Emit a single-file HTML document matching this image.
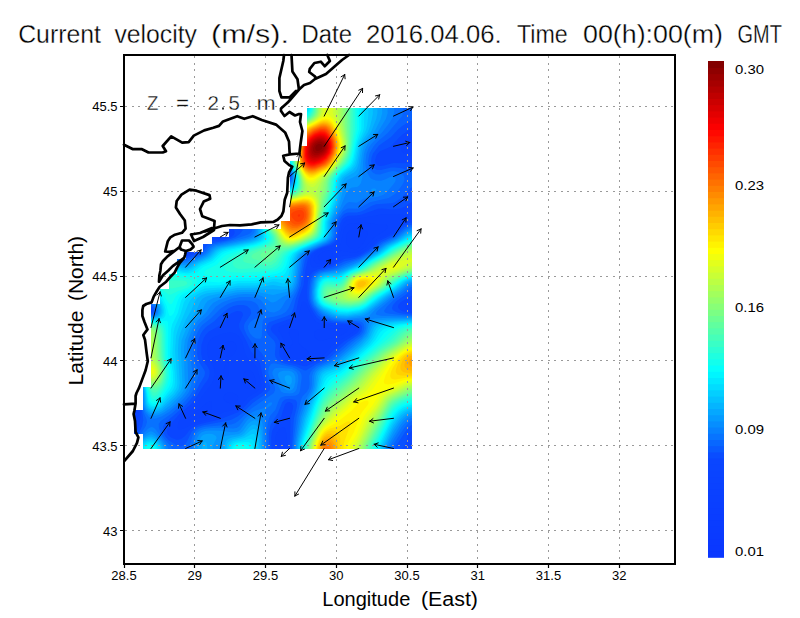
<!DOCTYPE html>
<html><head><meta charset="utf-8"><title>Current velocity</title>
<style>html,body{margin:0;padding:0;background:#fff;width:800px;height:618px;overflow:hidden}
svg text{font-family:"Liberation Sans",sans-serif}</style></head>
<body>
<svg width="800" height="618" viewBox="0 0 800 618" style="position:absolute;left:0;top:0"><defs><clipPath id="dm"><polygon points="412,108 412,449 143,449 143,434 134,434 134,410 143,410 143,387 151,387 151,304 160,304 160,289 169,289 169,274 177,274 177,259 186,259 186,252 203,252 203,244 212,244 212,237 229,237 229,229 281,229 281,221 290,221 290,161 300,161 300,146 307,146 307,108"/></clipPath></defs><g clip-path="url(#dm)"><polygon points="412,108 412,449 143,449 143,434 134,434 134,410 143,410 143,387 151,387 151,304 160,304 160,289 169,289 169,274 177,274 177,259 186,259 186,252 203,252 203,244 212,244 212,237 229,237 229,229 281,229 281,221 290,221 290,161 300,161 300,146 307,146 307,108" fill="#0a38ff"/><path fill="#0a39ff" fill-rule="evenodd" d="M132.0 105.0 414.0 105.0 414.0 451.0 132.0 451.0Z"/><path fill="#0a3aff" fill-rule="evenodd" d="M132.0 105.0 414.0 105.0 414.0 451.0 132.0 451.0 132.0 392.7 132.4 391.0 132.0 388.8Z"/><path fill="#0a3bff" fill-rule="evenodd" d="M132.0 105.0 414.0 105.0 414.0 451.0 132.0 451.0 132.0 396.2 133.3 394.0 134.0 391.0 133.3 388.0 132.0 386.3Z"/><path fill="#0a3cff" fill-rule="evenodd" d="M132.0 105.0 414.0 105.0 414.0 451.0 132.0 451.0 132.0 398.7 134.0 395.9 135.0 391.0 134.1 387.0 132.0 384.7Z"/><path fill="#0a3dff" fill-rule="evenodd" d="M132.0 105.0 414.0 105.0 414.0 451.0 132.0 451.0 132.0 401.1 135.0 396.4 135.9 391.0 135.0 386.7 132.0 383.5Z"/><path fill="#0a3fff" fill-rule="evenodd" d="M132.0 105.0 414.0 105.0 414.0 451.0 132.0 451.0 132.0 404.2 134.0 401.3 135.5 398.0 136.7 391.0 135.5 386.0 134.0 383.8 132.0 382.4Z"/><path fill="#0a40ff" fill-rule="evenodd" d="M132.0 105.0 414.0 105.0 414.0 451.0 132.0 451.0 132.0 407.0 133.8 405.0 136.9 396.0 137.4 392.0 137.0 388.0 136.0 385.4 134.0 382.7 132.0 381.3Z"/><path fill="#0a41ff" fill-rule="evenodd" d="M132.0 105.0 414.0 105.0 414.0 451.0 132.0 451.0 132.0 409.5 134.0 407.8 135.4 405.0 137.5 397.0 138.1 392.0 137.7 388.0 136.5 385.0 134.4 382.0 132.0 380.3Z"/><path fill="#0a42ff" fill-rule="evenodd" d="M132.0 105.0 414.0 105.0 414.0 451.0 132.0 451.0 132.0 412.1 134.0 410.7 136.0 407.3 138.2 397.0 138.7 392.0 138.3 388.0 137.0 384.5 135.0 381.5 132.0 379.4Z"/><path fill="#0a43ff" fill-rule="evenodd" d="M132.0 105.0 414.0 105.0 414.0 451.0 132.0 451.0 132.0 414.8 135.0 412.7 136.8 409.0 139.3 392.0 138.9 388.0 137.4 384.0 135.0 380.5 132.0 378.4ZM332.8 252.0 331.6 251.0 329.0 250.5 326.0 250.7 323.0 251.6 318.7 255.0 317.8 257.0 318.0 258.5 319.3 260.0 322.0 260.9 325.0 260.9 328.0 260.1 330.9 258.0 332.4 256.0 333.0 254.0ZM365.0 230.2 361.0 229.5 357.0 230.1 352.0 230.0 349.0 231.1 347.0 233.7 346.1 238.0 346.3 243.0 347.8 246.0 350.2 248.0 354.0 249.2 357.0 248.9 360.2 247.0 362.8 244.0 367.6 235.0 367.8 233.0 367.4 232.0Z"/><path fill="#0a44ff" fill-rule="evenodd" d="M132.0 105.0 414.0 105.0 414.0 451.0 132.0 451.0 132.0 418.3 135.0 416.4 137.4 412.0 138.4 407.0 139.9 392.0 139.2 387.0 137.5 383.0 135.0 379.5 132.0 377.4 132.0 251.6 169.0 251.5 182.0 252.1 185.0 251.5 187.8 250.0 188.9 249.0 189.7 247.0 189.2 245.0 186.9 242.0 184.0 239.9 181.0 239.1 169.0 240.1 132.0 239.7ZM167.6 181.0 167.4 182.0 170.7 184.0 180.0 186.3 186.0 186.7 202.0 185.8 205.0 186.1 207.8 188.0 209.1 190.0 209.5 196.0 212.0 201.3 214.0 203.4 216.0 204.4 217.0 204.1 218.5 202.0 219.4 197.0 219.2 190.0 220.7 183.0 220.0 181.2 219.0 180.5 215.0 179.6 204.0 179.5 183.0 177.8 172.4 179.0ZM231.0 341.1 228.0 341.4 225.0 342.7 222.9 345.0 222.2 347.0 222.6 350.0 224.0 352.7 228.0 357.5 229.0 357.9 234.0 353.9 235.7 351.0 236.4 348.0 236.1 345.0 235.0 343.0 233.0 341.6ZM247.0 370.3 245.0 371.3 243.5 374.0 242.6 379.0 243.0 384.0 244.0 386.3 246.0 388.0 248.0 388.5 251.0 388.2 253.7 387.0 255.2 385.0 255.8 382.0 255.4 379.0 254.0 374.7 252.3 372.0 250.0 370.5ZM281.4 176.0 282.0 177.1 284.0 177.7 285.5 177.0 285.9 176.0 285.2 175.0 284.0 174.7 282.3 175.0ZM292.0 329.1 290.1 330.0 289.3 331.0 288.9 333.0 290.0 336.1 292.7 341.0 292.8 343.0 288.1 350.0 287.6 353.0 288.0 355.0 290.0 357.0 293.0 358.0 299.0 358.4 303.0 357.5 306.9 355.0 308.4 353.0 308.5 352.0 298.3 343.0 298.0 341.0 298.7 334.0 298.0 330.8 296.0 329.2ZM387.7 226.0 386.0 224.5 378.0 224.6 365.0 222.4 351.0 223.4 348.0 224.3 346.0 225.9 344.0 229.0 340.9 243.0 339.0 247.0 337.0 247.8 326.0 249.0 320.4 251.0 317.3 253.0 314.6 256.0 313.7 259.0 314.1 261.0 316.0 262.9 318.0 263.5 326.0 263.3 329.9 262.0 333.0 260.0 335.8 257.0 339.0 252.3 341.0 250.7 353.0 252.7 356.0 252.5 359.0 251.5 365.5 247.0 374.0 237.5 385.6 230.0 387.4 228.0ZM211.5 402.0 210.0 401.3 207.0 402.5 199.6 409.0 190.3 416.0 188.6 418.0 188.6 419.0 191.0 419.6 204.0 416.9 208.0 415.0 210.0 413.0 211.4 410.0ZM216.0 225.4 214.0 227.9 213.3 230.0 213.3 232.0 214.0 234.0 216.0 235.7 218.0 236.3 221.0 236.2 224.1 235.0 225.1 234.0 225.7 232.0 224.0 228.3 221.0 225.5 219.0 224.6ZM228.0 362.3 227.0 362.6 225.0 365.5 223.8 370.0 224.0 376.2 225.0 378.3 226.0 378.7 228.0 376.3 229.0 372.5 229.0 365.9ZM347.2 330.0 344.9 329.0 338.0 328.0 320.8 329.0 317.0 329.9 315.2 331.0 314.1 333.0 314.1 335.0 315.0 337.6 317.0 339.7 319.0 340.4 322.0 340.4 335.0 337.6 339.9 336.0 346.4 332.0 347.3 331.0ZM223.9 396.0 223.5 398.0 224.2 400.0 226.3 402.0 230.0 403.4 233.0 403.5 235.0 402.9 237.0 401.2 238.0 399.0 238.1 397.0 237.1 395.0 233.0 393.1 230.0 392.7 227.0 393.0 225.0 394.3Z"/><path fill="#0a46ff" fill-rule="evenodd" d="M132.0 105.0 414.0 105.0 414.0 136.6 409.0 138.0 405.0 140.6 402.1 144.0 401.0 148.0 401.5 151.0 404.0 153.6 408.0 154.9 414.0 155.5 414.0 301.0 410.6 302.0 407.0 304.0 406.0 305.0 405.5 307.0 406.0 308.0 408.0 309.4 414.0 310.7 414.0 451.0 287.5 451.0 287.0 439.2 286.0 431.4 285.0 428.5 284.0 427.4 283.0 427.2 281.0 427.9 279.0 429.6 276.0 434.5 275.3 439.0 275.4 451.0 132.0 451.0 132.0 430.0 134.0 427.2 138.5 415.0 140.5 393.0 140.0 388.0 138.1 383.0 135.0 378.5 132.0 376.4 132.0 310.3 135.0 310.3 140.8 312.0 145.0 312.5 148.5 312.0 149.6 311.0 149.8 310.0 148.1 308.0 145.0 307.0 132.0 306.7 132.0 253.4 169.0 253.7 182.0 254.8 186.0 254.3 191.0 252.7 194.2 251.0 196.6 248.0 196.7 245.0 193.8 239.0 193.7 236.0 196.3 228.0 199.0 224.2 201.0 222.5 203.0 221.9 205.0 223.1 206.0 225.1 208.4 234.0 210.0 236.2 213.0 238.0 217.0 238.7 222.0 238.4 226.5 237.0 229.3 235.0 230.3 233.0 230.2 231.0 226.6 224.0 226.2 222.0 227.3 218.0 231.3 212.0 232.0 209.0 231.0 206.0 225.0 200.4 223.3 195.0 223.1 189.0 224.5 185.0 227.3 180.0 227.5 179.0 226.8 178.0 221.0 176.6 197.0 175.4 173.0 171.6 166.0 169.8 146.6 163.0 132.0 161.0ZM277.2 176.0 278.0 177.8 279.5 179.0 284.0 180.2 287.1 179.0 288.0 177.8 288.4 176.0 287.0 173.6 284.0 172.6 280.0 173.5 277.8 175.0ZM355.4 328.0 354.0 326.9 351.0 326.2 326.0 324.8 322.0 324.2 318.0 322.8 316.0 321.5 313.9 319.0 306.0 303.4 304.0 300.9 303.0 301.0 302.0 302.3 298.7 315.0 296.0 319.6 292.0 322.1 281.0 326.0 279.5 327.0 278.3 329.0 278.6 331.0 282.4 337.0 284.2 341.0 284.5 344.0 283.1 353.0 283.6 356.0 284.8 358.0 289.0 360.3 304.0 362.6 309.0 361.6 322.3 356.0 325.0 353.8 330.0 347.7 333.0 344.9 354.1 332.0 355.6 330.0ZM408.3 217.0 407.4 216.0 402.0 214.8 382.0 214.2 358.0 218.7 350.0 218.9 347.0 219.7 344.0 222.2 342.0 225.9 339.2 239.0 337.3 243.0 334.0 245.5 321.9 249.0 317.5 251.0 314.6 253.0 311.7 256.0 310.4 259.0 310.2 262.0 311.2 266.0 312.0 267.2 314.0 267.4 328.0 264.9 334.0 262.3 340.0 257.3 343.0 255.7 354.0 255.2 360.6 253.0 366.9 249.0 377.0 239.7 388.9 234.0 392.0 232.0 399.0 224.3 406.5 219.0ZM236.0 334.1 231.0 332.4 224.0 333.2 214.0 336.9 211.1 339.0 209.0 341.7 207.1 347.0 207.0 352.0 208.5 358.0 212.8 365.0 214.2 369.0 214.6 374.0 213.5 380.0 210.7 385.0 195.7 405.0 192.0 408.4 184.1 414.0 181.2 417.0 179.4 420.0 178.1 424.0 177.6 427.0 178.3 429.0 180.0 429.5 183.0 428.8 196.0 422.7 211.0 418.9 223.0 412.2 233.0 409.9 237.0 408.4 241.4 405.0 248.0 396.9 256.6 392.0 260.0 389.0 261.1 386.0 261.0 383.0 257.2 368.0 255.0 364.7 249.1 360.0 247.0 357.5 245.4 354.0 241.9 341.0 239.0 336.5Z"/><path fill="#0951ff" fill-rule="evenodd" d="M132.0 105.0 414.0 105.0 414.0 128.6 409.0 130.2 402.0 134.8 390.0 146.9 380.0 151.3 376.7 155.0 375.1 160.0 375.3 162.0 376.2 164.0 378.0 165.5 380.0 166.0 384.0 165.5 393.0 162.9 414.0 163.2 414.0 201.6 410.0 203.1 404.4 207.0 400.0 208.5 393.0 209.4 382.0 208.5 378.0 208.7 362.0 214.5 357.0 215.5 348.0 215.7 344.0 217.7 342.0 220.0 340.1 224.0 337.4 238.0 335.4 242.0 331.0 245.0 321.7 248.0 315.1 251.0 311.0 254.0 308.0 258.0 305.1 272.0 303.6 285.0 298.6 299.0 296.2 311.0 294.4 315.0 292.7 317.0 290.0 318.7 274.0 324.4 271.9 326.0 270.8 329.0 272.0 332.0 277.0 337.1 279.5 341.0 280.2 344.0 279.4 352.0 279.7 356.0 281.4 359.0 284.2 361.0 303.0 366.1 306.0 366.3 323.1 359.0 326.5 357.0 335.0 348.9 343.4 342.0 357.2 333.0 359.0 330.8 359.6 328.0 358.5 326.0 356.0 324.7 352.0 324.1 338.0 323.8 328.0 322.6 321.0 320.6 317.0 317.7 314.3 314.0 310.3 307.0 308.7 303.0 307.4 298.0 307.1 291.0 307.8 282.0 308.7 278.0 310.2 275.0 312.9 272.0 317.0 269.6 332.0 265.6 344.0 258.9 355.0 257.0 360.3 255.0 368.6 250.0 380.0 240.6 393.6 234.0 403.0 225.3 408.0 223.1 414.0 222.2 414.0 294.2 400.9 302.0 398.3 305.0 398.0 307.0 399.0 309.0 402.0 311.0 407.0 312.4 414.0 313.1 414.0 429.1 412.0 430.4 409.0 434.0 407.2 438.0 405.2 445.0 400.4 451.0 290.0 451.0 290.5 418.0 292.9 409.0 293.2 406.0 292.0 403.3 289.0 402.1 287.0 402.6 285.0 404.6 281.0 417.0 274.0 427.3 272.1 431.0 271.2 437.0 271.6 451.0 132.0 451.0 132.0 434.7 135.0 433.3 137.4 430.0 139.0 425.5 140.4 418.0 140.4 403.0 141.1 393.0 140.6 388.0 138.7 383.0 135.0 377.6 132.0 375.4 132.0 312.9 144.0 314.0 148.0 313.8 151.0 312.9 152.0 312.0 152.4 310.0 151.0 307.5 147.0 305.4 132.0 303.4 132.0 254.6 168.0 255.1 181.0 256.7 186.0 256.5 194.1 254.0 199.2 251.0 201.9 247.0 204.0 240.4 205.0 240.0 213.0 240.5 220.0 240.2 226.2 239.0 231.0 237.1 233.6 235.0 234.6 233.0 234.5 231.0 231.6 225.0 231.0 222.0 234.6 214.0 235.3 210.0 234.5 206.0 227.7 199.0 225.6 194.0 225.6 189.0 226.9 186.0 229.0 183.3 232.0 181.0 236.0 179.2 240.0 178.3 247.0 177.8 272.0 177.9 280.0 181.2 285.0 181.7 288.4 180.0 289.5 178.0 289.8 176.0 289.1 174.0 288.0 172.7 286.0 171.5 284.0 171.2 280.0 171.9 274.0 174.6 272.0 175.0 254.0 175.0 240.0 175.7 199.0 173.8 192.0 172.6 177.0 168.7 162.0 162.9 155.4 161.0 144.0 159.2 132.0 158.4ZM241.0 311.6 237.0 310.9 231.6 313.0 229.0 315.3 225.0 321.4 222.6 324.0 209.0 331.5 206.0 334.4 204.0 337.4 201.4 345.0 201.2 354.0 202.8 360.0 207.9 367.0 209.3 370.0 209.7 373.0 209.0 377.0 207.6 380.0 203.0 386.3 197.7 395.0 191.2 404.0 179.4 414.0 168.0 427.2 166.9 430.0 167.4 434.0 169.0 436.0 172.0 438.1 177.0 439.7 181.0 439.1 185.0 436.0 190.5 429.0 196.0 425.4 201.0 423.7 217.9 420.0 238.0 412.2 243.0 408.2 250.8 400.0 261.5 393.0 265.1 389.0 265.5 385.0 262.7 376.0 259.9 363.0 257.7 359.0 251.0 351.4 246.3 341.0 239.3 328.0 239.1 324.0 242.9 315.0 242.6 313.0Z"/><path fill="#0862ff" fill-rule="evenodd" d="M132.0 105.0 414.0 105.0 414.0 120.0 409.0 121.8 402.2 126.0 398.0 129.6 391.0 137.1 379.0 145.4 373.0 153.6 371.7 157.0 371.1 161.0 371.6 164.0 373.0 166.9 375.0 168.9 377.0 169.9 381.0 170.1 391.0 167.6 395.0 167.4 402.0 168.3 414.0 171.9 414.0 186.2 410.0 188.4 401.3 198.0 395.0 202.3 391.0 203.3 376.0 204.3 372.0 205.7 365.0 209.8 361.0 211.4 357.0 212.4 348.0 212.4 345.0 213.5 343.0 215.1 340.0 219.0 338.1 223.0 336.0 237.0 334.0 241.0 330.0 244.0 319.2 248.0 312.9 251.0 308.7 254.0 306.0 257.2 305.0 260.0 303.0 270.5 300.7 286.0 295.7 299.0 293.3 309.0 292.0 312.2 290.0 314.4 286.0 316.5 269.7 322.0 267.7 324.0 266.4 328.0 266.8 332.0 268.0 334.8 274.0 340.6 275.3 343.0 275.6 346.0 274.9 354.0 275.4 357.0 277.5 360.0 281.0 362.2 286.0 364.0 295.3 366.0 304.0 370.3 306.0 370.6 316.0 364.3 329.4 358.0 347.7 342.0 359.3 334.0 361.5 331.0 362.1 327.0 361.0 324.7 358.0 323.0 354.0 322.5 342.0 322.6 332.0 321.5 323.0 318.9 318.0 315.4 312.1 307.0 310.3 303.0 309.3 299.0 309.0 293.0 309.6 285.0 310.5 280.0 312.2 276.0 315.0 272.9 319.0 270.6 333.0 267.1 344.0 261.6 355.0 258.8 360.0 256.8 369.9 251.0 381.3 242.0 394.0 235.9 404.0 227.3 409.0 225.2 414.0 224.4 414.0 288.6 411.2 290.0 406.0 294.5 396.5 301.0 393.0 305.0 392.0 308.0 392.8 310.0 394.0 311.0 398.0 312.7 404.9 314.0 414.0 314.6 414.0 423.7 410.1 426.0 406.0 430.8 396.0 446.0 394.2 451.0 291.7 451.0 293.8 419.0 296.8 407.0 297.1 403.0 296.4 401.0 295.0 399.8 289.0 398.7 285.0 399.6 282.3 402.0 278.0 413.0 270.5 425.0 268.9 434.0 269.2 451.0 132.0 451.0 132.0 437.2 136.0 435.5 139.4 432.0 142.2 426.0 143.3 420.0 141.3 406.0 141.6 393.0 141.1 388.0 139.7 384.0 137.0 379.1 135.0 376.5 132.0 374.3 132.0 314.1 145.0 315.0 150.0 314.6 153.2 313.0 154.1 310.0 152.8 307.0 149.0 304.5 143.6 303.0 132.0 301.2 132.0 255.6 167.0 256.3 182.0 258.5 186.0 258.4 193.8 256.0 200.4 253.0 203.0 250.8 207.0 245.4 210.0 243.4 227.0 240.2 235.6 237.0 239.7 234.0 243.0 230.0 239.0 228.1 235.9 224.0 235.6 222.0 237.5 213.0 237.0 207.0 235.5 204.0 229.0 197.0 227.4 193.0 227.7 189.0 230.0 185.2 233.0 182.9 236.0 181.7 248.0 180.2 259.0 180.0 273.0 180.7 281.0 182.9 285.0 183.1 287.0 182.6 289.2 181.0 290.4 179.0 290.8 176.0 290.2 174.0 288.8 172.0 287.0 170.7 284.0 170.0 272.0 172.8 235.0 173.4 200.0 172.5 189.5 170.0 178.5 166.0 167.0 160.9 162.0 159.4 148.0 157.3 132.0 156.4ZM247.0 306.1 243.0 304.9 238.0 304.9 233.5 306.0 229.0 308.1 222.7 313.0 214.6 321.0 206.0 327.1 203.0 330.3 200.7 334.0 198.6 339.0 197.4 344.0 197.1 354.0 198.5 361.0 204.7 371.0 205.0 373.0 204.4 376.0 199.1 385.0 195.1 393.0 190.0 400.1 185.6 405.0 165.0 423.0 162.9 427.0 163.5 433.0 165.7 437.0 169.0 440.4 177.0 445.7 181.0 446.6 185.0 444.3 187.0 441.6 191.5 432.0 194.4 429.0 197.7 427.0 203.0 425.3 228.0 420.8 232.0 419.4 238.0 416.3 243.0 412.3 252.7 403.0 265.8 394.0 269.6 390.0 270.2 388.0 270.0 386.0 265.2 374.0 264.8 360.0 264.1 357.0 261.6 353.0 253.0 344.3 246.8 335.0 244.2 329.0 243.9 326.0 244.8 323.0 250.4 315.0 251.2 313.0 250.3 309.0Z"/><path fill="#0872ff" fill-rule="evenodd" d="M402.6 105.0 403.5 111.0 402.2 116.0 387.7 133.0 378.0 141.2 373.8 146.0 369.6 153.0 368.1 161.0 368.4 165.0 370.0 169.2 373.0 172.7 376.0 174.3 380.0 174.5 389.0 171.7 393.0 171.1 398.0 171.9 402.1 174.0 403.9 176.0 404.6 179.0 403.4 183.0 400.8 187.0 395.0 194.0 388.7 198.0 370.0 202.2 358.0 208.7 348.0 208.6 345.0 209.9 343.0 211.6 339.0 216.9 336.4 222.0 335.5 226.0 334.7 236.0 333.0 240.0 329.0 243.2 310.8 251.0 306.5 254.0 304.7 256.0 303.0 260.0 298.9 286.0 297.0 291.0 292.7 299.0 288.8 308.0 285.8 312.0 281.0 314.8 275.0 316.6 266.0 318.0 263.6 319.0 262.6 322.0 261.8 336.0 261.1 338.0 260.0 338.8 256.0 338.5 253.0 336.8 250.0 333.4 248.1 329.0 248.0 326.0 250.0 322.3 254.0 319.2 259.7 317.0 260.6 315.0 259.4 309.0 257.7 305.0 255.0 302.5 251.0 301.1 245.0 300.4 238.0 300.8 233.0 301.9 227.7 304.0 220.1 309.0 211.2 318.0 202.4 325.0 199.9 328.0 197.2 333.0 194.9 339.0 193.7 344.0 193.5 351.0 194.2 360.0 195.4 364.0 198.9 371.0 199.2 373.0 198.6 376.0 193.2 390.0 189.5 396.0 182.4 404.0 172.0 413.3 160.8 421.0 158.7 424.0 159.0 428.0 161.2 434.0 165.0 439.5 171.3 447.0 172.8 451.0 132.0 451.0 132.0 439.2 136.0 437.7 140.5 434.0 145.8 426.0 147.0 422.0 146.5 419.0 143.8 413.0 142.5 408.0 141.9 402.0 142.1 392.0 141.4 387.0 139.8 383.0 137.0 378.1 134.0 374.5 132.0 373.1 132.0 315.1 145.0 315.8 150.0 315.5 153.9 314.0 154.8 313.0 155.5 311.0 154.4 307.0 151.0 303.9 144.0 301.6 132.0 299.2 132.0 256.6 166.0 257.4 172.0 258.0 182.0 260.0 187.0 259.9 193.0 257.9 202.0 254.0 204.7 252.0 209.0 246.9 213.0 244.4 232.0 240.1 248.0 234.6 250.5 233.0 252.1 231.0 252.8 229.0 252.3 226.0 249.8 223.0 243.0 220.7 240.8 219.0 240.0 216.7 237.9 205.0 236.0 202.1 231.2 197.0 229.6 194.0 229.3 190.0 230.9 187.0 233.0 185.0 237.0 183.2 248.0 181.7 262.0 181.7 273.0 182.4 282.0 184.2 286.0 184.1 288.0 183.4 290.0 181.9 291.0 180.0 291.6 177.0 291.1 174.0 290.0 172.0 288.0 170.1 285.0 168.9 282.0 169.0 272.0 171.4 233.0 171.9 202.0 171.4 191.6 169.0 173.1 160.0 166.0 157.6 152.0 155.5 132.0 154.5 132.0 105.0ZM414.0 226.3 414.0 285.8 410.0 287.6 403.6 293.0 393.6 300.0 386.6 307.0 384.0 311.0 385.0 312.5 388.0 313.4 401.0 315.1 414.0 315.8 414.0 420.1 411.4 421.0 409.0 422.6 404.0 428.2 394.0 443.4 392.0 447.9 391.3 451.0 293.1 451.0 293.6 441.0 296.6 417.0 301.6 398.0 302.8 396.0 307.0 391.8 309.0 388.0 309.6 384.0 309.2 376.0 310.5 372.0 312.9 369.0 316.7 366.0 328.1 361.0 333.0 358.0 351.4 342.0 360.9 335.0 363.1 332.0 364.3 328.0 363.6 324.0 362.0 322.3 360.0 321.4 355.0 320.9 342.0 321.3 334.0 320.4 324.0 317.2 319.3 314.0 313.7 307.0 311.7 303.0 310.6 299.0 310.3 294.0 310.6 288.0 311.5 282.0 312.9 278.0 316.0 274.0 320.0 271.6 335.0 268.2 345.0 263.5 359.0 258.7 370.8 252.0 383.0 242.7 395.1 237.0 405.0 228.8 409.0 227.0ZM300.2 372.0 301.6 375.0 301.7 378.0 299.9 391.0 299.0 393.5 297.1 395.0 295.0 395.7 285.0 396.3 282.1 397.0 280.4 398.0 279.0 400.1 275.3 410.0 270.8 415.0 269.1 418.0 267.8 423.0 267.1 430.0 267.4 451.0 188.5 451.0 189.7 445.0 192.5 436.0 194.7 432.0 197.0 429.8 200.4 428.0 205.0 426.8 231.0 424.4 235.0 423.3 238.0 421.2 252.0 408.1 273.9 393.0 275.1 390.0 274.9 387.0 273.6 384.0 269.3 377.0 268.2 373.0 268.9 367.0 271.0 363.9 274.0 363.3 292.0 367.0 296.7 369.0Z"/><path fill="#0782ff" fill-rule="evenodd" d="M393.8 105.0 394.3 112.0 393.1 117.0 390.1 122.0 382.5 132.0 372.0 143.2 369.1 147.0 366.4 154.0 365.4 163.0 365.9 168.0 367.0 172.0 369.6 177.0 371.7 179.0 376.0 180.6 381.0 180.7 385.0 179.6 390.0 176.9 393.0 176.5 395.0 177.6 395.7 179.0 395.5 181.0 394.4 183.0 386.2 193.0 383.0 195.1 377.0 197.0 364.0 198.6 357.0 202.8 349.0 202.0 347.0 203.0 345.0 204.9 338.0 215.0 334.9 221.0 333.9 225.0 333.5 235.0 332.6 238.0 331.3 240.0 327.1 243.0 308.8 251.0 305.6 253.0 302.8 256.0 301.3 260.0 298.3 282.0 296.5 288.0 293.0 294.0 285.5 301.0 281.4 308.0 279.0 310.4 274.0 312.4 269.6 312.0 267.0 310.0 263.1 303.0 260.5 300.0 256.0 297.7 250.0 296.9 240.0 297.1 232.0 298.7 222.0 302.6 216.0 306.6 208.9 315.0 201.0 321.7 198.0 325.0 195.0 330.4 191.6 339.0 190.5 344.0 190.2 349.0 190.8 361.0 192.4 372.0 192.4 377.0 191.2 386.0 188.9 392.0 186.0 396.0 178.7 404.0 169.0 412.1 162.0 416.2 156.0 418.5 152.0 418.7 149.0 417.1 145.5 413.0 143.5 408.0 142.7 402.0 142.6 391.0 141.2 385.0 136.0 375.6 132.0 371.8 132.0 316.0 146.0 316.5 151.8 316.0 155.5 314.0 156.6 312.0 156.8 310.0 155.0 305.7 151.0 302.5 143.0 299.7 132.0 297.2 132.0 257.4 167.0 258.5 173.0 259.4 182.0 261.6 187.0 261.6 203.3 255.0 206.1 253.0 211.0 247.5 215.0 245.3 245.6 238.0 250.0 236.4 253.0 234.2 254.4 232.0 255.0 229.0 254.6 226.0 252.0 222.0 245.0 218.4 242.4 216.0 241.1 213.0 238.9 204.0 231.5 194.0 231.0 191.0 232.3 188.0 234.5 186.0 238.0 184.4 249.0 182.9 260.0 182.8 273.0 183.8 282.0 185.3 286.0 185.2 289.0 184.1 291.0 182.1 292.2 179.0 292.3 176.0 291.4 173.0 289.3 170.0 287.0 168.4 284.0 167.7 272.0 170.2 211.0 170.7 201.0 170.2 192.0 167.5 178.0 158.8 170.0 155.8 157.0 153.9 132.0 152.8 132.0 105.0ZM414.0 227.8 414.0 283.8 409.0 285.9 402.0 291.8 392.7 298.0 378.4 310.0 376.5 312.0 375.9 314.0 377.0 315.1 381.0 315.8 414.0 316.8 414.0 417.3 411.0 418.2 408.0 420.1 402.0 426.6 392.2 442.0 390.0 447.0 389.1 451.0 294.3 451.0 295.1 441.0 298.7 417.0 303.6 402.0 309.0 393.2 311.0 388.8 311.8 385.0 312.0 376.0 313.3 372.0 315.8 369.0 318.4 367.0 331.0 361.5 336.3 358.0 354.7 342.0 362.0 336.4 365.0 332.0 366.2 328.0 366.3 324.0 365.8 322.0 365.0 321.0 363.1 320.0 358.0 319.4 343.0 320.2 336.0 319.4 331.0 318.2 325.5 316.0 322.0 314.1 319.0 311.5 313.9 305.0 311.6 298.0 311.9 287.0 313.0 281.0 314.3 278.0 317.0 274.8 321.0 272.4 337.0 269.2 347.0 264.6 359.0 260.1 373.0 252.0 384.0 243.6 395.8 238.0 406.0 230.0 410.0 228.4ZM274.0 369.1 276.0 368.1 279.0 367.7 289.0 368.5 293.0 369.5 296.5 372.0 298.0 375.0 298.4 380.0 296.7 389.0 295.0 391.7 293.0 393.0 290.0 393.6 284.0 393.0 281.0 391.4 272.6 375.0 272.3 372.0ZM272.0 402.7 272.0 404.0 271.0 405.4 266.0 408.8 264.9 413.0 265.7 451.0 191.8 451.0 193.1 443.0 194.8 437.0 196.9 433.0 200.0 430.4 204.0 429.0 211.0 428.1 222.0 427.7 233.0 428.6 236.5 428.0 239.0 426.4 245.0 418.4 251.0 413.0 255.0 410.7 264.0 408.0 265.5 407.0 268.7 403.0 271.0 402.2ZM132.0 441.2 135.0 440.2 138.0 438.4 142.1 435.0 148.0 428.8 150.0 427.4 152.0 427.1 154.0 428.0 156.0 429.9 164.7 442.0 167.7 447.0 168.9 451.0 132.0 451.0Z"/><path fill="#0693ff" fill-rule="evenodd" d="M387.3 105.0 387.7 113.0 385.9 119.0 377.9 132.0 368.0 143.6 365.3 149.0 364.0 154.0 363.1 162.0 362.6 176.0 361.0 183.0 359.0 185.7 357.3 187.0 352.0 187.6 350.0 188.5 346.0 193.4 340.5 207.0 333.1 221.0 332.3 225.0 332.1 235.0 330.5 239.0 326.0 242.5 306.0 251.4 303.0 253.6 301.1 256.0 299.7 260.0 296.6 283.0 295.2 287.0 293.0 290.8 290.0 293.6 282.6 297.0 276.0 301.4 273.0 302.6 271.0 302.2 264.0 297.2 260.0 295.4 255.0 294.4 246.0 294.1 238.0 294.6 230.9 296.0 218.7 300.0 213.0 303.0 210.3 306.0 205.7 313.0 198.0 320.3 195.0 324.0 192.0 329.9 188.4 339.0 187.5 343.0 187.1 348.0 188.3 383.0 187.8 387.0 186.2 391.0 182.7 396.0 175.0 404.2 170.6 408.0 164.0 412.5 160.0 414.6 156.0 415.7 152.0 415.6 149.0 414.4 146.0 411.2 144.0 406.2 143.4 402.0 143.2 391.0 141.8 385.0 136.0 374.5 134.0 371.9 132.0 370.4 132.0 316.7 146.0 317.2 152.0 316.7 155.0 315.6 157.0 314.0 157.9 312.0 157.9 310.0 156.0 305.1 152.0 301.5 139.9 297.0 132.0 295.5 132.0 258.3 167.0 259.6 173.0 260.5 183.0 263.3 187.0 263.2 205.0 255.6 208.0 253.2 212.0 248.7 216.0 246.3 248.0 239.0 252.0 237.6 254.2 236.0 256.1 233.0 256.6 229.0 255.8 225.0 253.1 221.0 245.9 217.0 243.1 214.0 239.7 203.0 233.4 194.0 232.9 191.0 233.7 189.0 235.8 187.0 239.0 185.6 250.0 184.0 259.0 183.9 274.0 185.1 282.0 186.3 287.0 186.0 290.0 184.6 291.5 183.0 292.7 180.0 293.0 176.0 292.0 172.7 290.0 169.6 288.0 167.9 285.0 166.7 282.0 166.7 273.0 169.1 203.0 169.3 197.0 168.0 192.3 166.0 188.1 163.0 181.0 156.6 174.7 154.0 160.0 151.9 132.0 151.0 132.0 105.0ZM284.0 142.7 282.0 143.4 280.6 146.0 281.0 148.0 281.9 149.0 284.0 149.7 286.0 148.3 286.4 146.0 285.8 144.0ZM371.2 190.0 371.3 189.0 374.0 188.2 376.0 189.0 376.4 190.0 375.9 191.0 374.0 191.5 372.0 191.0ZM414.0 229.3 414.0 282.3 409.0 284.1 400.0 291.3 391.2 297.0 375.7 309.0 369.0 316.1 367.0 317.1 346.0 319.0 337.0 318.4 331.0 316.7 324.0 313.5 320.0 310.6 316.5 307.0 314.5 304.0 313.0 300.0 312.4 292.0 314.2 281.0 315.7 278.0 318.0 275.5 321.0 273.6 324.0 272.6 338.0 270.3 358.0 261.9 375.1 252.0 385.0 244.4 397.0 238.6 406.0 231.6 410.0 229.9ZM414.0 317.8 414.0 415.0 410.5 416.0 407.0 418.0 403.7 421.0 400.4 425.0 391.0 440.2 388.4 446.0 387.2 451.0 295.4 451.0 296.2 442.0 300.7 417.0 305.6 403.0 311.0 393.2 312.7 389.0 313.6 385.0 314.2 376.0 315.1 373.0 316.4 371.0 321.0 367.3 331.9 363.0 337.0 360.0 362.0 338.7 366.4 333.0 369.4 322.0 371.0 319.6 375.0 318.5 387.0 317.8ZM279.3 372.0 283.0 370.8 289.0 370.8 292.0 371.8 294.0 373.6 295.4 377.0 295.4 382.0 294.0 387.4 292.0 390.0 290.0 390.6 287.0 390.3 283.7 388.0 278.3 377.0 278.0 374.0ZM261.0 419.3 262.3 423.0 263.2 429.0 264.2 451.0 194.6 451.0 195.8 443.0 197.2 438.0 199.5 434.0 202.0 432.0 206.0 430.8 211.0 430.4 222.0 430.8 231.0 432.2 236.0 432.0 238.0 431.5 240.2 430.0 247.0 420.6 252.0 416.5 255.0 415.5 257.0 415.6 259.0 416.6ZM132.0 443.2 137.0 440.9 148.0 432.5 150.0 431.6 152.0 431.5 155.0 433.2 162.1 441.0 165.1 446.0 166.4 451.0 132.0 451.0Z"/><path fill="#05a3ff" fill-rule="evenodd" d="M381.9 105.0 382.3 113.0 380.3 120.0 374.3 132.0 366.0 142.4 363.6 147.0 362.2 153.0 360.1 168.0 358.5 173.0 356.0 176.1 347.4 180.0 345.0 183.3 339.2 205.0 332.8 218.0 331.3 222.0 331.0 233.0 330.2 237.0 329.0 239.0 326.0 241.4 305.0 250.8 300.1 255.0 298.1 260.0 295.3 282.0 292.8 288.0 291.0 290.0 288.0 291.6 273.0 294.9 257.0 292.1 244.0 291.9 236.0 292.5 213.4 298.0 207.6 301.0 205.3 304.0 201.9 311.0 194.8 319.0 192.0 323.0 185.0 340.0 184.0 348.0 184.5 374.0 185.1 384.0 184.5 388.0 183.2 391.0 180.0 395.5 170.6 405.0 162.8 411.0 159.0 412.9 155.0 413.8 152.0 413.6 149.0 412.4 146.1 409.0 144.6 405.0 143.7 391.0 142.3 385.0 136.0 373.2 134.0 370.4 132.0 369.0 132.0 317.5 147.0 317.9 154.0 317.0 156.2 316.0 158.3 314.0 159.1 310.0 158.3 307.0 157.0 304.6 155.0 302.3 152.0 300.1 142.4 296.0 132.0 294.2 132.0 259.1 167.0 260.6 173.0 261.7 183.0 264.9 187.0 264.9 206.0 256.5 209.0 254.1 213.9 249.0 217.5 247.0 249.0 240.1 254.0 238.4 256.7 236.0 257.9 233.0 258.0 229.0 257.0 225.0 254.7 221.0 246.7 216.0 244.0 213.0 240.5 202.0 235.4 194.0 234.8 192.0 235.3 190.0 237.0 188.2 240.0 186.8 245.0 185.7 251.0 185.0 260.0 185.0 282.0 187.2 287.0 187.0 290.0 185.8 292.0 183.7 293.2 181.0 293.6 177.0 293.0 173.6 291.0 169.7 288.0 166.7 285.0 165.4 282.0 165.5 273.0 168.0 204.0 168.3 198.0 167.1 193.0 164.6 190.0 162.0 185.0 154.3 183.0 152.9 180.0 151.7 165.0 149.8 132.0 149.1 132.0 105.0ZM284.0 139.3 282.0 139.8 280.0 141.3 278.1 144.0 277.6 146.0 277.9 148.0 279.3 150.0 282.0 152.1 284.0 152.5 286.0 151.6 287.0 150.5 288.0 148.2 288.2 146.0 287.0 141.5 286.0 140.2ZM414.0 230.6 414.0 281.2 410.3 282.0 407.0 283.8 399.0 290.3 390.1 296.0 375.4 307.0 368.0 313.1 363.0 315.6 347.0 317.8 342.0 317.8 337.0 317.1 331.0 315.3 324.0 311.8 320.0 309.1 317.0 306.0 314.0 300.0 313.4 292.0 315.3 281.0 317.0 278.0 319.0 276.0 324.0 273.6 335.0 272.3 339.0 271.4 358.0 263.0 375.5 253.0 386.0 245.0 398.2 239.0 407.0 232.6 410.0 231.3ZM414.0 318.7 414.0 413.0 410.0 414.1 406.3 416.0 403.0 418.8 399.4 423.0 394.0 431.1 389.2 440.0 386.6 446.0 385.4 451.0 296.5 451.0 297.4 442.0 302.2 418.0 306.5 406.0 314.0 390.0 315.0 386.0 316.1 376.0 317.2 373.0 318.7 371.0 323.0 368.0 333.0 364.4 338.0 361.6 360.0 342.8 366.5 336.0 368.6 332.0 371.0 324.7 374.0 321.6 378.0 320.4 387.0 319.4ZM287.0 375.2 290.0 375.5 291.8 378.0 291.8 382.0 291.0 384.1 290.0 385.0 288.6 385.0 287.0 384.0 284.8 380.0 284.7 377.0 285.4 376.0ZM258.3 422.0 260.0 425.0 261.6 431.0 262.7 451.0 221.7 451.0 221.8 446.0 221.0 439.0 222.1 437.0 224.9 436.0 239.0 434.0 242.9 431.0 248.0 424.1 251.0 421.4 255.0 420.1 257.0 420.9ZM215.9 436.0 216.7 438.0 213.2 445.0 212.6 451.0 197.4 451.0 199.6 440.0 201.0 437.1 203.0 435.1 206.0 433.9 210.0 433.7 213.0 434.3ZM164.7 451.0 132.0 451.0 132.0 445.5 135.0 444.2 147.0 435.7 150.0 434.6 152.0 434.6 156.0 436.7 160.4 441.0 163.5 446.0Z"/><path fill="#04b3ff" fill-rule="evenodd" d="M377.2 105.0 377.5 113.0 376.2 119.0 371.0 132.0 364.4 141.0 362.3 145.0 360.9 150.0 358.9 163.0 357.4 168.0 356.0 170.6 354.0 172.6 345.0 177.8 342.3 182.0 340.8 191.0 337.7 204.0 329.9 222.0 329.7 234.0 328.3 238.0 326.4 240.0 323.0 242.0 304.0 250.4 299.0 254.4 297.4 257.0 296.6 260.0 293.8 282.0 292.0 285.9 289.0 288.5 282.0 289.8 273.0 289.3 238.0 290.0 209.0 295.7 205.3 297.0 202.3 299.0 200.1 302.0 196.4 311.0 188.8 322.0 181.7 340.0 180.9 349.0 182.4 383.0 181.9 387.0 180.9 390.0 175.7 397.0 162.0 409.4 159.0 411.1 155.0 412.1 152.0 412.0 149.0 410.6 146.8 408.0 145.3 404.0 144.3 391.0 142.8 385.0 136.0 371.7 134.0 368.9 132.0 367.5 132.0 318.1 147.0 318.5 154.0 317.8 157.0 316.6 159.0 315.0 160.0 313.0 160.2 310.0 159.5 307.0 158.0 304.0 155.0 300.6 152.0 298.4 144.0 294.9 132.0 292.9 132.0 259.9 151.0 260.4 167.0 261.6 173.0 262.9 183.0 266.6 187.0 266.7 207.0 257.3 210.1 255.0 214.8 250.0 219.0 247.7 250.0 241.1 256.0 239.0 258.3 237.0 259.4 234.0 259.3 230.0 258.0 224.8 256.7 222.0 255.0 220.0 247.2 215.0 244.7 212.0 241.3 201.0 237.2 193.0 237.3 191.0 239.1 189.0 242.0 187.7 252.0 186.1 260.0 186.0 282.0 188.1 288.0 187.6 291.0 186.2 292.8 184.0 293.9 181.0 294.2 177.0 293.4 173.0 291.0 168.6 288.0 165.5 285.0 164.0 282.0 164.1 273.0 166.9 204.0 167.2 197.0 165.2 192.7 162.0 191.5 160.0 190.6 157.0 190.8 149.0 189.3 148.0 177.0 147.1 132.0 146.9 132.0 105.0 298.9 105.0 301.0 105.5 303.4 105.0ZM284.0 136.6 282.0 137.0 279.0 139.0 275.5 143.0 274.1 146.0 274.8 148.0 278.4 152.0 282.0 154.6 284.0 155.0 286.0 154.2 288.0 151.6 289.0 149.0 289.3 146.0 288.0 139.9 286.0 137.3ZM414.0 232.0 414.0 280.2 410.0 281.0 407.0 282.4 398.0 289.5 386.4 297.0 367.0 311.7 361.0 314.5 347.0 316.6 338.0 316.1 332.0 314.3 323.0 309.8 320.0 307.7 317.5 305.0 314.7 299.0 314.3 291.0 316.4 281.0 318.0 278.4 320.0 276.5 325.0 274.4 339.0 272.7 358.0 264.2 377.4 253.0 387.0 245.6 398.4 240.0 407.0 234.1 410.0 232.7ZM414.0 319.6 414.0 411.2 409.0 412.5 405.0 414.7 401.2 418.0 398.0 421.8 393.0 429.3 384.9 446.0 383.7 451.0 297.5 451.0 298.3 443.0 303.7 419.0 309.6 403.0 315.4 390.0 316.6 386.0 318.0 376.1 320.2 372.0 324.0 369.3 334.0 365.8 339.3 363.0 361.0 344.5 367.9 337.0 372.6 326.0 375.0 323.6 379.0 322.0 386.0 321.0ZM257.9 427.0 259.2 430.0 260.3 435.0 261.2 451.0 224.1 451.0 225.2 443.0 226.1 441.0 228.0 439.1 231.0 437.8 239.0 436.1 242.0 434.8 244.3 433.0 250.0 426.4 252.0 425.0 255.0 424.6ZM163.2 451.0 132.0 451.0 132.0 448.8 144.0 439.2 148.0 437.1 151.0 436.6 155.0 438.0 159.0 441.4 162.0 446.0ZM205.0 442.0 206.0 442.4 206.7 444.0 207.8 451.0 201.0 451.0 203.0 444.1Z"/><path fill="#03c4ff" fill-rule="evenodd" d="M372.8 105.0 372.9 114.0 370.5 125.0 368.0 132.0 362.2 141.0 360.5 145.0 357.5 161.0 356.0 165.9 353.0 170.1 343.0 176.9 340.5 181.0 339.1 191.0 336.4 203.0 328.6 222.0 328.4 234.0 326.9 238.0 324.7 240.0 321.3 242.0 302.9 250.0 297.7 254.0 295.2 259.0 292.2 281.0 290.9 284.0 288.2 286.0 283.0 286.7 273.0 285.0 258.0 287.6 237.0 288.0 221.0 291.6 206.0 293.5 201.8 295.0 197.4 298.0 194.5 302.0 191.4 310.0 185.7 320.0 180.4 333.0 178.7 339.0 177.9 351.0 179.8 383.0 178.7 389.0 174.6 395.0 161.2 408.0 158.0 409.8 155.0 410.5 152.0 410.4 150.0 409.6 148.0 407.8 146.2 404.0 144.7 390.0 143.3 385.0 136.0 370.1 134.0 367.3 132.0 366.0 132.0 318.8 149.0 319.1 156.0 318.1 158.3 317.0 160.4 315.0 161.3 313.0 161.4 310.0 160.4 306.0 158.7 303.0 156.0 299.8 152.0 296.4 143.0 293.3 132.0 291.8 132.0 260.7 151.0 261.3 167.0 262.7 172.6 264.0 182.0 268.1 187.0 268.5 190.0 267.5 198.0 262.7 208.0 258.2 211.0 256.0 215.8 251.0 219.0 249.0 225.0 247.2 251.0 242.0 256.9 240.0 259.7 238.0 260.9 235.0 260.7 231.0 259.0 225.0 256.2 220.0 248.0 214.4 245.2 211.0 239.9 194.0 240.1 191.0 242.0 189.4 245.0 188.3 254.0 187.0 260.0 187.0 282.0 189.0 288.0 188.6 291.0 187.2 293.1 185.0 294.6 181.0 294.8 177.0 293.9 173.0 291.0 167.5 287.0 163.3 284.0 161.5 276.0 165.0 273.0 165.7 208.0 166.3 202.0 165.6 198.0 164.1 195.3 162.0 193.9 159.0 194.5 155.0 197.0 152.3 202.0 150.6 208.0 150.2 273.0 150.7 276.0 152.5 282.0 157.6 284.0 158.4 286.0 157.0 288.0 154.2 289.4 151.0 290.2 147.0 290.0 142.9 289.0 138.9 287.0 135.4 285.0 134.0 283.0 133.9 281.0 134.6 274.0 140.2 272.0 140.8 205.0 140.9 177.0 143.1 132.0 143.8 132.0 105.4 293.0 105.0 299.0 107.7 302.0 108.2 305.0 107.1 306.6 105.0ZM414.0 233.2 414.0 279.3 410.0 280.0 405.5 282.0 397.0 288.8 384.3 297.0 368.0 309.3 364.0 311.7 360.0 313.3 347.0 315.5 338.0 314.9 333.0 313.3 323.0 308.6 318.0 304.1 316.3 301.0 315.4 298.0 315.3 290.0 317.5 281.0 321.0 277.0 326.0 275.2 339.0 273.9 358.0 265.2 378.0 253.7 388.1 246.0 398.5 241.0 408.0 234.9ZM414.0 320.5 414.0 409.4 409.0 410.6 405.0 412.5 401.0 415.6 397.0 420.2 393.0 426.0 383.7 445.0 382.1 451.0 298.5 451.0 299.4 443.0 305.3 419.0 311.2 403.0 316.9 390.0 319.7 377.0 321.8 373.0 325.0 370.7 336.0 366.9 341.0 364.1 362.1 346.0 368.6 339.0 371.0 335.0 374.0 327.7 377.0 324.8 381.0 323.3 388.0 322.2 401.0 321.0ZM256.8 431.0 258.8 438.0 259.7 451.0 225.9 451.0 227.0 444.8 228.0 442.8 230.0 440.7 233.0 439.2 240.0 437.6 243.9 436.0 251.0 429.9 253.0 428.9 255.0 429.1ZM135.3 451.0 137.4 447.0 142.0 442.3 147.0 439.1 151.0 438.3 155.0 439.7 158.0 442.3 160.5 446.0 161.8 451.0Z"/><path fill="#02d4ff" fill-rule="evenodd" d="M368.4 105.0 368.4 115.0 367.2 125.0 366.0 130.0 359.2 144.0 356.1 160.0 354.4 165.0 351.0 169.3 341.6 176.0 339.2 180.0 337.8 191.0 335.3 202.0 327.4 222.0 327.3 233.0 326.0 237.2 321.4 241.0 303.0 249.1 299.0 251.4 296.1 254.0 293.6 259.0 290.6 279.0 289.0 281.9 287.4 283.0 283.0 283.4 276.0 281.8 273.0 281.6 256.0 285.6 237.0 285.8 221.0 289.5 208.0 290.6 204.0 291.4 198.0 294.0 192.2 298.0 189.8 301.0 187.8 305.0 178.1 329.0 176.1 336.0 175.0 351.0 177.4 380.0 177.4 384.0 176.5 388.0 173.5 393.0 167.0 399.2 162.3 405.0 160.0 407.0 155.0 409.0 152.0 408.9 150.0 408.0 148.0 405.8 146.9 403.0 145.5 391.0 143.9 385.0 136.0 368.4 134.0 365.7 132.0 364.4 132.0 319.4 150.0 319.6 157.0 318.6 159.0 317.8 161.3 316.0 162.6 313.0 162.6 310.0 161.7 306.0 160.0 302.7 155.4 297.0 153.0 295.1 144.0 292.2 132.0 290.7 132.0 261.6 150.0 262.2 166.0 263.6 171.7 265.0 182.0 269.7 187.8 270.0 192.0 268.3 199.0 263.6 209.3 259.0 212.0 257.0 217.0 251.9 220.0 249.9 226.2 248.0 252.0 242.8 259.0 240.4 261.9 238.0 262.5 236.0 262.1 232.0 260.6 227.0 258.6 222.0 257.2 220.0 248.8 214.0 246.0 210.5 244.7 207.0 242.4 196.0 242.5 192.0 244.0 190.5 247.0 189.2 255.0 188.0 283.0 189.9 289.0 189.2 292.0 187.5 294.0 185.0 295.2 181.0 295.3 177.0 293.6 171.0 287.5 161.0 287.7 158.0 290.5 150.0 290.9 144.0 289.0 135.5 287.0 132.0 285.0 130.4 282.0 130.6 275.0 136.1 272.0 137.2 204.0 137.4 173.0 139.1 132.0 140.0 132.0 109.3 235.0 108.9 264.0 108.2 289.0 106.8 292.0 107.2 299.0 110.0 302.0 110.4 304.0 110.1 306.0 108.9 308.3 105.0ZM196.7 159.0 197.1 157.0 199.0 154.8 202.0 153.4 206.0 152.8 272.0 153.3 274.0 153.8 276.9 156.0 278.6 158.0 279.2 160.0 278.2 162.0 277.0 162.9 273.0 164.3 220.0 164.5 208.6 165.0 204.0 164.6 200.0 163.3 197.4 161.0ZM414.0 234.5 414.0 278.5 409.0 279.4 405.0 281.2 396.0 288.2 382.3 297.0 367.0 308.6 363.0 310.8 359.0 312.2 347.0 314.3 339.0 313.9 334.0 312.3 324.0 308.0 321.0 306.0 318.3 303.0 316.2 298.0 316.2 290.0 318.1 282.0 321.3 278.0 326.0 276.2 336.0 275.7 341.0 274.4 348.0 270.5 360.4 265.0 369.0 259.5 379.2 254.0 390.0 246.0 398.4 242.0 409.0 235.8ZM414.0 321.3 414.0 407.7 409.0 408.8 404.0 411.1 400.0 414.2 396.0 418.7 392.0 424.6 382.1 445.0 380.5 451.0 299.4 451.0 300.5 443.0 306.6 420.0 312.7 403.0 318.7 389.0 321.4 378.0 323.0 374.8 326.7 372.0 339.0 367.5 346.0 362.4 367.8 343.0 371.5 338.0 376.0 328.7 379.0 326.0 384.0 324.4 396.0 322.6ZM255.7 436.0 257.2 441.0 258.0 451.0 227.5 451.0 229.0 444.9 230.4 443.0 233.0 441.1 244.2 438.0 252.0 434.0 254.0 434.0ZM160.5 451.0 137.8 451.0 139.4 447.0 143.0 443.2 147.0 440.7 151.0 439.9 154.3 441.0 157.7 444.0 159.6 447.0Z"/><path fill="#01e4ff" fill-rule="evenodd" d="M364.6 105.0 363.9 128.0 362.9 132.0 358.0 143.2 354.6 160.0 353.0 164.0 351.0 166.9 341.0 174.8 338.2 179.0 337.2 183.0 336.5 191.0 334.5 200.0 326.3 222.0 326.1 233.0 324.8 237.0 319.8 241.0 301.5 249.0 297.9 251.0 294.4 254.0 291.9 259.0 290.8 266.0 288.2 276.0 287.0 278.0 285.7 279.0 283.0 279.6 273.0 279.0 256.0 283.2 238.0 283.3 221.0 287.5 205.0 288.5 199.0 290.9 189.7 296.0 187.1 298.0 185.0 300.5 183.8 303.0 180.6 314.0 174.9 327.0 173.5 333.0 172.5 353.0 172.8 359.0 174.8 372.0 175.1 382.0 174.3 387.0 172.0 391.3 167.0 396.4 160.0 405.1 158.0 406.4 155.0 407.5 152.0 407.3 150.0 406.3 147.6 402.0 145.9 390.0 144.4 385.0 136.0 366.5 134.0 364.0 132.0 362.8 132.0 320.1 151.0 320.2 159.0 319.0 161.1 318.0 163.0 316.0 164.0 313.0 164.0 310.0 163.0 306.0 161.2 302.0 157.0 296.3 154.2 294.0 151.0 292.6 145.0 291.1 132.0 289.6 132.0 262.4 149.0 263.1 165.0 264.7 170.6 266.0 181.0 271.0 185.0 271.7 188.0 271.6 192.0 270.3 199.4 265.0 210.6 260.0 213.2 258.0 219.0 252.2 222.0 250.5 227.1 249.0 253.0 243.6 260.5 241.0 263.2 239.0 264.1 237.0 262.9 231.0 260.0 223.0 258.2 220.0 249.0 213.1 246.7 210.0 245.6 207.0 244.4 199.0 244.2 195.0 244.8 193.0 246.0 191.6 248.0 190.5 255.0 189.1 283.0 190.7 289.0 190.1 292.0 188.6 294.3 186.0 295.7 182.0 295.9 177.0 294.6 172.0 289.0 161.0 289.1 158.0 291.5 148.0 291.3 141.0 290.0 134.7 288.4 130.0 287.0 127.9 285.0 126.7 283.0 126.5 280.0 127.5 275.0 132.1 272.0 133.4 132.0 134.4 132.0 113.5 234.0 112.8 263.0 111.5 289.0 109.3 292.0 109.7 299.0 112.1 302.0 112.4 305.0 111.7 307.0 110.3 308.5 108.0 309.4 105.0ZM200.1 159.0 201.0 157.2 202.9 156.0 209.0 155.1 220.0 156.0 272.0 156.3 274.0 156.8 275.0 157.7 275.9 160.0 274.5 162.0 272.0 162.6 220.0 162.6 208.0 163.4 204.3 163.0 201.7 162.0 200.6 161.0ZM414.0 235.8 414.0 277.8 409.0 278.6 403.5 281.0 395.0 287.6 380.4 297.0 367.0 307.3 363.0 309.6 359.0 311.0 347.0 313.1 339.0 312.6 324.0 306.9 321.0 304.7 319.0 302.4 317.0 297.0 317.0 290.0 319.0 282.5 322.0 278.7 326.0 277.2 337.0 276.8 341.0 275.6 348.9 271.0 361.0 265.6 370.0 259.8 380.0 254.4 390.0 247.0 409.0 237.1ZM414.0 322.2 414.0 406.1 408.0 407.4 403.0 409.7 399.0 412.8 395.3 417.0 392.0 421.7 388.1 429.0 380.6 445.0 379.0 451.0 300.4 451.0 301.5 443.0 308.5 419.0 314.1 403.0 320.6 388.0 323.0 379.7 325.0 376.2 329.0 373.4 340.0 369.2 346.0 364.8 369.5 344.0 373.4 339.0 378.0 330.2 381.0 327.5 385.0 326.0 397.0 323.7ZM255.0 443.3 256.1 451.0 229.0 451.0 229.6 448.0 231.0 445.0 233.1 443.0 236.0 441.7 251.0 438.8 253.4 440.0ZM139.7 451.0 140.7 448.0 143.0 445.0 147.0 442.2 150.0 441.4 153.0 441.9 156.0 444.0 158.1 447.0 159.2 451.0Z"/><path fill="#01f5ff" fill-rule="evenodd" d="M361.5 105.0 361.4 129.0 356.7 143.0 353.4 159.0 351.9 163.0 349.9 166.0 340.3 174.0 337.0 179.0 336.0 183.0 335.4 191.0 333.5 199.0 325.4 221.0 324.9 224.0 324.9 233.0 323.3 237.0 318.3 241.0 299.8 249.0 293.6 253.0 291.9 255.0 290.3 258.0 288.5 266.0 286.0 272.0 284.7 274.0 283.0 275.3 280.0 276.1 270.0 277.3 255.0 280.7 238.0 280.7 233.0 281.6 220.0 285.3 205.0 285.7 201.0 287.2 183.3 297.0 181.0 301.0 177.8 313.0 172.3 324.0 171.0 329.4 170.2 354.0 170.5 359.0 172.9 372.0 173.0 381.0 172.1 386.0 170.0 390.0 159.0 403.8 155.0 405.9 153.0 405.9 151.0 405.2 149.1 403.0 148.3 401.0 145.7 387.0 140.2 375.0 137.0 366.6 135.0 363.3 132.0 361.3 132.0 320.7 153.0 320.8 161.0 319.6 163.8 318.0 165.2 316.0 165.7 313.0 165.6 310.0 164.2 305.0 162.3 301.0 159.1 296.0 155.7 293.0 152.0 291.3 147.0 290.1 132.0 288.5 132.0 263.3 148.2 264.0 162.0 265.5 169.0 267.1 177.0 271.2 181.0 272.6 186.0 273.2 190.0 272.9 194.7 271.0 201.0 265.9 212.2 261.0 220.0 253.7 223.0 251.8 228.6 250.0 255.0 244.2 263.1 241.0 265.7 238.0 265.7 236.0 264.8 233.0 259.0 220.0 256.0 217.1 250.1 213.0 247.1 209.0 245.7 201.0 246.3 195.0 247.7 193.0 250.0 191.5 256.0 190.2 283.0 191.5 290.0 190.6 293.0 188.8 295.2 186.0 296.3 182.0 296.4 177.0 295.1 172.0 290.1 161.0 290.1 158.0 292.0 148.4 292.1 143.0 290.0 129.3 288.0 124.9 285.0 122.8 282.0 122.5 279.0 123.1 273.0 126.3 254.6 124.0 251.2 123.0 249.9 122.0 250.5 121.0 254.9 119.0 261.8 117.0 285.0 112.3 290.0 111.9 299.0 114.1 304.0 113.7 306.0 113.0 308.3 111.0 309.7 108.0 310.4 105.0ZM207.7 160.0 209.0 159.5 209.9 160.0ZM414.0 237.1 414.0 277.0 408.3 278.0 403.0 280.3 392.7 288.0 378.6 297.0 367.0 306.1 363.0 308.4 359.0 309.9 348.0 311.8 340.0 311.5 333.0 309.5 325.0 306.3 322.0 304.4 319.8 302.0 317.8 297.0 317.9 290.0 320.0 282.8 323.0 279.3 327.0 278.0 337.0 278.0 341.0 276.8 349.0 271.8 361.0 266.6 370.0 260.7 380.6 255.0 391.0 247.4 408.0 238.8ZM414.0 323.1 414.0 404.4 408.0 405.7 403.0 407.8 398.5 411.0 394.8 415.0 391.3 420.0 379.0 445.0 377.3 451.0 301.3 451.0 302.8 442.0 314.4 406.0 325.0 381.2 327.0 378.1 330.0 375.8 340.0 371.5 346.0 367.1 371.2 345.0 375.4 340.0 380.4 332.0 383.8 329.0 389.0 327.0 399.0 324.6ZM253.6 451.0 230.6 451.0 231.8 447.0 234.7 444.0 238.0 442.8 246.0 441.9 249.0 442.2 251.5 444.0 252.9 447.0ZM157.8 451.0 141.6 451.0 142.6 448.0 144.1 446.0 147.0 443.9 150.0 443.0 153.0 443.6 155.0 445.0 157.0 447.9Z"/><path fill="#06fff9" fill-rule="evenodd" d="M358.8 105.0 359.2 129.0 355.7 142.0 352.7 157.0 350.9 162.0 349.0 165.0 339.0 173.9 335.8 179.0 334.9 183.0 334.3 191.0 332.6 198.0 324.4 221.0 323.8 232.0 323.1 235.0 321.1 238.0 317.0 240.9 300.2 248.0 291.8 253.0 288.6 257.0 286.0 266.0 284.0 269.5 282.0 271.7 277.0 273.8 255.0 277.9 236.0 278.3 219.0 282.5 208.0 281.4 204.0 281.8 193.8 289.0 183.1 294.0 180.3 296.0 178.0 300.0 174.0 312.7 172.0 315.2 170.0 316.2 169.0 315.1 166.6 306.0 164.4 301.0 161.5 296.0 158.0 292.4 154.0 290.3 150.0 289.2 141.0 287.9 132.0 287.4 132.0 264.3 146.9 265.0 159.0 266.4 168.0 268.7 176.0 272.7 180.0 274.0 186.0 274.8 192.0 274.5 197.0 272.5 203.3 267.0 214.0 262.4 221.7 255.0 225.0 252.9 230.8 251.0 257.0 244.7 262.0 243.0 265.5 241.0 267.4 238.0 266.5 234.0 259.8 220.0 257.0 217.1 251.0 212.9 248.0 209.1 246.8 204.0 247.0 198.0 249.0 194.3 254.0 191.9 260.0 191.2 287.0 192.1 292.0 190.6 295.5 187.0 296.8 183.0 296.9 177.0 296.0 173.0 291.8 164.0 290.9 161.0 290.9 158.0 292.6 148.0 292.6 142.0 291.0 126.7 288.7 119.0 288.7 117.0 291.0 115.7 300.0 115.9 304.0 115.2 306.9 114.0 309.0 112.0 310.0 110.3 311.3 105.0ZM414.0 238.4 414.0 276.3 408.0 277.3 401.9 280.0 389.0 289.4 376.7 297.0 366.0 305.6 359.0 308.8 348.0 310.7 339.0 310.1 326.0 305.7 323.0 304.0 320.2 301.0 318.7 297.0 318.6 291.0 320.1 285.0 323.0 280.7 327.0 279.1 336.0 279.4 340.0 278.6 350.0 272.1 362.0 267.0 370.9 261.0 382.0 255.1 391.7 248.0 408.0 239.9ZM132.0 321.3 154.0 321.4 167.0 320.8 167.8 322.0 168.3 327.0 168.1 355.0 168.5 359.0 171.0 371.0 170.7 382.0 169.0 387.0 161.0 399.0 158.0 402.4 155.0 404.1 152.0 403.8 150.0 401.9 148.9 399.0 146.4 387.0 140.8 375.0 137.2 365.0 135.0 361.5 132.0 359.7ZM414.0 324.0 414.0 402.7 408.0 404.0 402.0 406.5 398.0 409.2 394.0 413.4 391.0 417.7 377.4 445.0 375.7 451.0 302.2 451.0 303.8 442.0 316.5 404.0 323.0 390.2 329.0 380.4 332.0 378.0 341.0 373.3 346.0 369.5 372.9 346.0 378.7 340.0 384.0 333.1 386.5 331.0 392.6 328.0 398.6 326.0 406.0 324.6ZM143.4 451.0 145.4 447.0 148.0 445.2 150.0 444.7 152.0 445.0 154.0 446.3 155.3 448.0 156.3 451.0ZM232.3 451.0 233.2 448.0 235.0 445.9 238.0 444.6 243.0 444.1 246.0 444.4 248.8 446.0 250.1 448.0 250.9 451.0Z"/><path fill="#16ffe9" fill-rule="evenodd" d="M356.7 105.0 357.2 129.0 351.8 156.0 350.0 161.0 348.2 164.0 338.0 173.7 334.7 179.0 332.5 194.0 329.9 203.0 324.0 218.8 323.0 224.0 322.5 233.0 320.7 237.0 315.3 241.0 298.5 248.0 289.7 253.0 286.5 257.0 284.0 264.1 282.4 267.0 279.4 270.0 276.0 271.6 269.0 273.3 255.0 275.0 234.0 275.8 220.0 277.7 213.7 277.0 206.1 275.0 204.4 274.0 204.4 272.0 206.0 270.0 217.0 264.6 222.5 258.0 226.3 255.0 240.4 250.0 261.0 244.6 266.0 242.3 268.5 240.0 269.1 238.0 268.7 236.0 261.3 221.0 258.0 217.2 251.1 212.0 248.8 209.0 247.7 204.0 248.0 199.3 250.0 195.5 252.0 194.1 255.0 193.0 262.0 192.3 288.0 192.7 292.9 191.0 296.0 187.7 297.5 183.0 297.3 176.0 296.1 172.0 292.4 164.0 291.5 160.0 293.2 146.0 292.4 125.0 292.8 122.0 293.8 120.0 296.0 118.5 305.0 116.2 308.0 114.6 310.8 111.0 312.2 105.0ZM414.0 239.5 414.0 275.6 407.0 276.9 400.3 280.0 388.0 289.1 375.0 297.0 366.0 304.5 359.0 307.8 348.0 309.6 339.0 309.0 326.8 305.0 323.3 303.0 321.0 300.4 319.5 296.0 319.7 290.0 321.3 285.0 324.0 281.4 328.0 280.2 336.0 280.8 340.0 279.9 349.8 273.0 361.8 268.0 371.0 261.8 382.0 256.0 392.0 248.8 408.0 241.0ZM132.0 265.4 144.0 266.0 157.0 267.9 165.0 270.0 178.0 275.3 195.0 277.4 197.1 279.0 197.0 282.0 195.2 285.0 191.5 288.0 181.0 292.6 177.3 295.0 175.5 297.0 172.0 303.7 171.0 304.3 170.0 304.2 168.0 302.1 162.9 294.0 160.0 291.3 157.0 289.5 153.0 288.1 148.0 287.3 132.0 286.1ZM132.0 322.0 160.0 322.5 164.0 323.8 165.5 326.0 166.4 333.0 166.6 357.0 169.2 371.0 169.0 379.0 167.4 385.0 163.7 392.0 159.0 398.8 157.0 400.8 155.0 401.8 153.0 401.9 150.7 400.0 147.4 388.0 141.3 375.0 137.4 363.0 135.0 359.7 132.0 358.2ZM414.0 325.0 414.0 401.0 408.0 402.3 401.4 405.0 396.9 408.0 393.1 412.0 388.0 420.4 376.3 444.0 374.1 451.0 303.1 451.0 304.5 443.0 317.8 404.0 323.0 393.5 330.0 383.5 333.0 380.7 341.0 375.8 345.0 372.8 358.0 360.9 381.5 341.0 388.4 334.0 392.1 331.0 396.0 328.7 401.0 326.8 407.0 325.5ZM145.6 451.0 147.2 448.0 150.0 446.7 151.6 447.0 153.0 447.9 154.4 451.0ZM234.2 451.0 236.0 447.7 238.0 446.6 241.0 446.2 244.0 446.7 246.0 447.8 247.8 451.0Z"/><path fill="#27ffd8" fill-rule="evenodd" d="M354.8 105.0 355.2 130.0 351.2 154.0 349.6 159.0 347.5 163.0 337.0 173.6 333.7 179.0 331.7 193.0 323.3 218.0 322.3 223.0 321.6 232.0 320.7 235.0 319.4 237.0 313.7 241.0 296.8 248.0 288.7 252.0 284.8 256.0 281.7 263.0 279.8 266.0 277.0 268.4 273.5 270.0 266.0 271.4 242.0 272.7 231.0 272.2 226.0 270.6 224.3 268.0 224.9 263.0 226.3 260.0 229.5 257.0 242.3 251.0 265.0 244.4 268.9 242.0 270.4 240.0 270.7 238.0 270.1 236.0 262.0 220.9 258.6 217.0 251.1 211.0 249.2 208.0 248.6 202.0 249.3 199.0 250.5 197.0 254.0 194.6 259.0 193.5 273.0 193.1 285.0 193.6 290.0 193.1 294.3 191.0 297.0 187.5 298.1 183.0 297.8 176.0 292.6 163.0 292.1 160.0 293.6 147.0 293.5 128.0 294.0 124.5 295.1 122.0 298.0 119.6 306.0 116.9 309.2 115.0 311.8 111.0 313.0 105.0ZM414.0 240.6 414.0 274.9 407.0 276.2 400.0 279.2 386.0 289.4 374.8 296.0 366.0 303.4 359.0 306.8 348.0 308.5 339.0 307.9 333.0 306.3 327.0 304.0 324.0 302.3 321.9 300.0 320.5 296.0 320.7 290.0 322.0 286.0 325.0 282.5 328.0 281.6 336.0 282.3 340.0 281.4 349.4 274.0 363.3 268.0 372.0 262.1 383.4 256.0 393.0 249.3 407.0 242.4ZM132.0 266.8 146.0 268.0 156.2 270.0 174.0 276.7 189.0 279.0 192.0 280.8 192.5 283.0 191.3 285.0 188.0 287.5 178.3 291.0 171.0 294.6 169.0 294.7 161.0 288.9 155.0 286.5 146.0 285.3 132.0 284.7ZM132.0 322.6 149.0 322.7 158.0 323.3 162.2 325.0 164.0 328.0 164.8 335.0 165.1 357.0 167.5 370.0 167.5 377.0 166.2 383.0 163.0 390.0 159.0 395.9 157.0 398.0 155.0 399.2 153.0 399.1 151.0 396.8 147.7 387.0 141.5 374.0 137.5 361.0 135.0 358.0 132.0 356.7ZM414.0 326.0 414.0 399.4 408.0 400.6 401.8 403.0 397.0 405.9 393.0 409.6 388.0 417.6 379.7 435.0 374.7 444.0 372.6 451.0 304.0 451.0 305.5 443.0 318.8 405.0 323.0 396.6 329.0 388.5 333.3 384.0 345.0 375.3 360.0 361.5 378.0 346.5 386.9 340.0 396.3 331.0 399.7 329.0 404.0 327.4ZM237.3 451.0 238.3 450.0 240.0 449.5 242.0 449.9 243.3 451.0ZM148.9 451.0 150.0 450.3 151.4 451.0Z"/><path fill="#37ffc8" fill-rule="evenodd" d="M353.1 105.0 353.4 130.0 351.7 146.0 350.4 153.0 348.8 158.0 346.2 163.0 335.6 174.0 332.6 179.0 331.8 182.0 330.8 192.0 323.0 216.1 321.7 222.0 320.6 232.0 318.9 236.0 316.0 238.8 312.2 241.0 286.1 252.0 283.1 255.0 278.0 263.9 275.6 266.0 272.0 267.9 266.0 268.9 255.0 268.1 242.0 269.0 238.0 268.7 235.0 267.6 232.9 265.0 232.8 262.0 234.8 259.0 238.5 256.0 243.1 253.0 247.3 251.0 262.0 246.8 268.0 244.5 271.0 242.3 272.2 240.0 272.2 238.0 271.5 236.0 266.3 228.0 262.1 220.0 259.0 216.6 252.1 211.0 250.6 209.0 249.6 206.0 249.5 203.0 250.1 200.0 251.3 198.0 255.0 195.5 261.0 194.2 273.0 193.8 285.0 194.2 290.0 193.7 294.3 192.0 297.7 188.0 298.8 183.0 298.3 176.0 293.5 164.0 292.7 160.0 294.1 147.0 294.2 130.0 294.9 126.0 296.2 123.0 299.0 120.6 308.0 117.0 310.5 115.0 312.8 111.0 313.8 105.0ZM414.0 241.6 414.0 274.2 407.0 275.4 398.7 279.0 385.2 289.0 374.0 295.5 365.0 303.0 359.0 305.9 349.0 307.5 339.0 306.9 328.0 303.4 324.1 301.0 322.5 299.0 321.4 295.0 321.6 291.0 323.0 286.8 325.0 284.5 328.0 283.3 336.0 283.9 340.0 283.0 347.7 276.0 351.0 273.8 364.0 268.4 372.0 262.9 383.2 257.0 395.5 249.0 408.0 243.0ZM132.0 268.8 143.5 270.0 152.0 272.0 157.1 274.0 164.0 278.5 168.0 280.2 183.0 280.6 186.0 281.3 187.5 283.0 186.2 285.0 184.2 286.0 172.0 288.6 168.2 288.0 162.0 284.9 157.0 283.6 132.0 282.8ZM132.0 323.3 148.0 323.3 156.0 323.9 159.0 324.8 160.8 326.0 162.6 329.0 163.4 335.0 163.8 357.0 166.3 370.0 166.2 376.0 164.7 383.0 162.0 388.6 158.0 394.1 155.0 396.1 153.0 395.7 152.0 394.7 143.3 377.0 138.0 359.6 135.8 357.0 132.0 355.4ZM414.0 327.1 414.0 397.8 408.0 399.0 400.5 402.0 395.6 405.0 392.0 408.5 387.4 416.0 378.7 434.0 373.6 443.0 372.0 447.0 371.2 451.0 304.9 451.0 306.2 444.0 312.9 424.0 320.0 405.7 324.0 398.0 329.0 391.6 335.0 385.7 346.0 377.0 361.0 362.9 379.0 348.0 391.0 340.0 399.0 331.8 405.0 328.6Z"/><path fill="#48ffb7" fill-rule="evenodd" d="M351.5 105.0 351.4 137.0 350.7 146.0 349.4 153.0 347.6 158.0 345.0 163.0 334.6 174.0 331.6 179.0 330.6 183.0 330.0 191.0 322.5 215.0 321.0 222.0 319.9 231.0 318.0 235.6 315.8 238.0 311.0 240.8 284.0 251.5 281.2 254.0 276.0 262.0 271.0 265.2 268.0 265.7 264.0 265.6 247.0 263.0 244.2 262.0 243.2 261.0 243.0 259.0 244.7 256.0 246.8 254.0 252.7 251.0 270.0 245.2 272.9 243.0 273.7 241.0 273.6 238.0 272.9 236.0 267.0 227.7 262.8 220.0 259.1 216.0 253.1 211.0 251.0 208.1 250.4 203.0 252.0 199.0 256.0 196.2 262.0 194.9 273.0 194.3 286.0 194.7 291.0 194.2 295.6 192.0 298.6 188.0 299.5 183.0 298.8 176.0 294.0 164.0 293.3 160.0 294.5 147.0 294.8 131.0 295.6 127.0 297.0 124.0 300.0 121.3 308.0 118.0 311.0 115.8 313.7 111.0 314.5 105.0ZM414.0 242.6 414.0 273.5 406.0 275.0 397.1 279.0 384.0 288.8 373.0 295.2 365.0 302.0 359.0 304.9 349.0 306.5 340.0 306.0 329.8 303.0 326.0 301.0 323.9 299.0 322.7 296.0 322.6 292.0 323.9 288.0 326.0 285.9 329.0 285.0 336.0 285.4 340.0 284.6 342.0 283.2 347.6 277.0 351.9 274.0 364.5 269.0 373.0 263.2 383.0 258.0 393.7 251.0 408.0 244.0ZM132.0 271.9 142.1 274.0 145.0 276.0 144.9 277.0 141.0 278.5 132.0 279.4ZM132.0 324.0 147.0 323.9 154.0 324.4 158.5 326.0 160.0 327.4 161.0 329.3 162.0 335.0 162.6 357.0 165.0 369.0 165.2 375.0 164.3 380.0 162.3 385.0 159.0 390.0 156.0 392.6 154.0 392.8 152.0 391.4 145.0 379.3 142.4 373.0 140.1 362.0 138.4 358.0 136.0 355.6 132.0 354.1ZM414.0 328.5 414.0 396.2 408.0 397.5 399.3 401.0 394.4 404.0 391.4 407.0 387.0 414.1 377.1 434.0 372.1 443.0 370.5 447.0 369.7 451.0 305.9 451.0 306.9 445.0 314.4 423.0 322.3 404.0 325.0 399.6 329.0 394.6 334.0 389.6 347.0 378.6 361.0 365.2 380.0 349.4 393.3 341.0 401.0 332.9 407.0 329.7Z"/><path fill="#58ffa7" fill-rule="evenodd" d="M349.9 105.0 350.1 141.0 348.6 152.0 347.0 157.0 344.4 162.0 333.6 174.0 330.5 179.0 329.5 183.0 328.8 191.0 322.0 213.9 319.0 231.0 317.3 235.0 314.5 238.0 310.0 240.5 295.0 246.5 281.2 251.0 279.0 253.0 274.8 259.0 271.0 261.8 268.0 262.5 264.0 262.3 253.0 258.8 251.4 257.0 251.5 256.0 253.0 254.0 258.7 251.0 272.9 246.0 274.6 244.0 275.2 241.0 274.0 235.9 268.0 227.9 263.5 220.0 260.0 216.0 254.0 210.9 252.0 208.4 251.2 204.0 252.6 200.0 256.0 197.3 262.0 195.7 273.0 194.9 286.0 195.3 291.0 194.8 294.0 193.8 296.9 192.0 299.5 188.0 300.1 183.0 299.3 176.0 294.5 164.0 293.8 160.0 294.9 147.0 295.4 132.0 296.2 128.0 297.6 125.0 300.7 122.0 309.0 118.3 312.0 116.0 314.3 112.0 315.3 105.0ZM414.0 243.6 414.0 272.8 406.0 274.2 395.4 279.0 392.0 281.2 383.8 288.0 373.0 294.3 364.0 301.6 359.0 304.0 350.0 305.4 340.0 304.8 330.3 302.0 326.8 300.0 324.9 298.0 323.9 295.0 324.0 292.0 325.0 289.5 327.0 287.6 329.0 286.9 337.0 286.9 340.0 286.1 343.0 283.8 347.6 278.0 352.0 274.6 366.0 269.0 373.2 264.0 384.0 258.3 401.4 248.0 409.0 244.7ZM132.0 324.8 146.0 324.5 153.0 325.1 157.7 327.0 159.7 330.0 160.6 335.0 161.4 357.0 163.9 368.0 164.2 374.0 163.4 379.0 161.9 383.0 159.0 387.3 156.0 389.8 154.0 390.0 152.0 388.8 149.0 385.0 145.0 378.1 142.9 373.0 140.8 361.0 139.1 357.0 136.0 354.1 132.0 352.9ZM414.0 330.0 414.0 394.7 408.0 396.0 400.0 399.2 394.7 402.0 391.0 405.3 386.2 413.0 371.1 442.0 369.0 447.0 368.3 451.0 306.8 451.0 308.2 444.0 315.0 424.1 323.5 405.0 329.0 397.5 334.5 392.0 348.0 380.4 360.4 368.0 380.0 351.4 395.0 342.0 404.2 333.0 408.3 331.0Z"/><path fill="#68ff97" fill-rule="evenodd" d="M348.2 105.0 349.0 142.0 347.9 151.0 346.0 156.9 343.3 162.0 331.8 175.0 329.4 179.0 328.3 183.0 327.5 191.0 323.9 203.0 317.4 233.0 315.4 236.0 312.0 238.7 299.0 244.3 289.0 247.4 278.0 248.6 277.0 248.0 276.6 241.0 275.0 235.7 268.3 227.0 263.5 219.0 253.3 209.0 252.1 206.0 252.7 202.0 255.1 199.0 261.0 196.6 272.0 195.5 290.0 195.6 295.0 194.1 298.1 192.0 300.5 188.0 300.6 181.0 299.2 174.0 294.7 163.0 294.2 159.0 295.9 133.0 296.7 129.0 298.0 126.0 301.0 122.9 309.3 119.0 313.1 116.0 315.3 112.0 316.0 105.0ZM414.0 244.6 414.0 272.1 410.0 272.5 405.0 273.8 393.6 279.0 383.0 287.6 372.0 294.0 363.3 301.0 359.0 303.0 351.0 304.4 342.0 304.0 332.0 301.4 329.2 300.0 326.8 298.0 325.9 296.0 325.7 293.0 326.5 291.0 328.0 289.6 331.0 288.7 338.0 288.3 341.0 287.1 343.0 285.4 348.0 278.5 352.5 275.0 367.0 269.3 374.8 264.0 403.0 248.2 409.0 245.7ZM276.0 250.0 273.0 255.8 270.0 258.2 268.0 258.7 265.0 258.6 262.0 257.4 260.6 256.0 260.4 255.0 261.6 253.0 265.0 251.0 272.0 249.3 275.0 249.3ZM132.0 325.6 146.0 325.3 152.0 325.8 156.0 327.4 158.5 331.0 159.3 336.0 160.3 357.0 162.9 368.0 163.3 373.0 162.6 378.0 161.1 382.0 159.0 385.1 156.0 387.4 154.0 387.6 151.0 386.0 148.0 382.2 145.6 378.0 143.5 373.0 141.6 360.0 140.0 356.2 136.6 353.0 132.0 351.6ZM414.0 331.7 414.0 393.1 408.0 394.5 399.0 398.3 393.0 401.4 390.3 404.0 385.9 411.0 369.6 442.0 367.6 447.0 366.9 451.0 307.7 451.0 309.0 444.0 315.2 426.0 324.0 407.6 329.0 400.4 334.0 395.3 349.1 382.0 361.9 369.0 381.0 352.5 385.0 349.7 396.4 343.0 406.0 334.2 410.0 332.4Z"/><path fill="#79ff86" fill-rule="evenodd" d="M346.6 105.0 346.8 127.0 348.1 142.0 347.3 150.0 345.4 156.0 342.2 162.0 330.8 175.0 327.8 180.0 326.4 190.0 323.3 200.0 316.9 232.0 315.0 235.1 311.7 238.0 299.0 243.6 289.0 246.5 284.0 246.8 281.0 246.0 279.0 244.0 275.6 235.0 269.0 226.8 265.0 220.0 254.0 208.6 253.0 205.0 253.8 202.0 256.9 199.0 262.0 197.1 273.0 196.0 290.0 196.1 295.0 194.8 299.4 192.0 301.4 188.0 301.4 182.0 300.0 175.0 295.2 163.0 294.7 159.0 296.4 134.0 297.2 130.0 298.3 127.0 302.0 123.2 310.0 119.4 314.1 116.0 316.2 112.0 316.8 105.0ZM414.0 245.7 414.0 271.3 406.0 272.7 393.0 278.2 390.0 280.2 382.5 287.0 372.0 293.1 363.0 300.1 359.0 302.0 351.0 303.4 342.0 302.8 333.0 300.3 330.6 299.0 328.7 297.0 328.1 294.0 329.3 292.0 331.2 291.0 339.0 289.7 342.0 288.1 344.0 285.9 348.5 279.0 353.0 275.4 367.3 270.0 375.0 264.9 403.7 249.0 409.0 246.7ZM132.0 326.5 145.0 326.0 151.0 326.5 154.6 328.0 156.9 331.0 157.9 336.0 159.0 357.0 161.9 368.0 162.4 373.0 161.8 377.0 160.3 381.0 158.0 384.1 156.0 385.5 154.0 385.8 151.0 384.5 149.0 382.4 146.0 377.6 143.9 372.0 142.7 360.0 141.0 355.4 137.0 351.7 132.0 350.4ZM414.0 333.5 414.0 391.6 408.0 393.0 397.0 397.9 392.0 400.5 389.4 403.0 385.0 410.0 368.6 441.0 366.4 446.0 365.4 451.0 308.6 451.0 309.9 444.0 316.0 426.5 325.7 408.0 330.0 402.1 350.9 383.0 364.0 369.5 382.8 353.0 397.5 344.0 407.0 335.9 410.0 334.4Z"/><path fill="#89ff76" fill-rule="evenodd" d="M344.8 105.0 345.2 126.0 347.1 142.0 346.4 150.0 344.4 156.0 341.2 162.0 337.3 167.0 329.0 176.0 326.2 181.0 324.7 190.0 322.5 197.0 317.5 227.0 316.0 231.9 313.9 235.0 311.0 237.5 299.0 242.9 290.0 245.5 286.0 245.7 282.8 245.0 280.3 243.0 276.0 234.0 269.3 226.0 264.9 219.0 255.2 209.0 254.0 206.0 254.5 203.0 257.1 200.0 263.0 197.6 273.0 196.5 290.0 196.7 296.1 195.0 300.7 192.0 302.5 188.0 302.3 183.0 300.5 175.0 296.0 164.0 295.2 159.0 296.9 135.0 298.7 128.0 302.0 124.1 311.0 119.6 315.2 116.0 317.1 112.0 317.6 105.0ZM414.0 246.8 414.0 270.5 410.0 270.9 405.0 272.2 392.0 277.7 388.6 280.0 381.1 287.0 371.0 292.9 363.0 299.0 359.0 301.0 352.0 302.3 345.0 301.9 337.0 300.0 334.0 298.6 332.1 297.0 331.8 295.0 332.4 294.0 340.0 291.1 343.0 289.0 348.6 280.0 353.0 276.1 357.0 274.2 368.0 270.5 376.6 265.0 404.1 250.0 409.0 247.9ZM132.0 327.7 144.0 327.0 149.0 327.2 153.6 329.0 155.7 332.0 156.5 336.0 157.8 357.0 160.7 367.0 161.5 372.0 161.0 376.0 160.0 379.1 158.0 382.2 156.0 383.8 154.0 384.2 151.0 383.2 148.0 379.8 146.0 376.3 144.2 370.0 143.8 359.0 142.0 354.5 138.0 350.8 135.0 349.5 132.0 349.0ZM414.0 335.6 414.0 390.1 410.0 390.8 393.0 398.4 388.5 402.0 373.0 429.2 365.7 444.0 363.9 451.0 309.4 451.0 311.0 443.0 316.8 427.0 327.0 409.3 331.0 404.0 352.9 384.0 366.0 370.0 376.6 361.0 383.8 354.0 388.0 351.0 398.4 345.0 408.0 337.6 411.0 336.2Z"/><path fill="#9aff65" fill-rule="evenodd" d="M342.8 105.0 342.7 114.0 343.4 123.0 346.2 142.0 345.5 150.0 343.4 156.0 339.6 163.0 335.6 168.0 327.0 177.0 324.2 182.0 321.1 195.0 320.2 208.0 317.0 226.0 315.5 231.0 313.7 234.0 310.3 237.0 301.0 241.4 291.0 244.6 287.0 244.8 284.0 244.1 281.0 241.7 276.3 233.0 270.0 225.7 265.6 219.0 256.2 209.0 255.2 207.0 255.3 204.0 256.4 202.0 258.0 200.5 263.0 198.3 273.0 197.0 291.0 197.1 297.7 195.0 302.1 192.0 303.5 189.0 303.3 184.0 301.4 176.0 296.8 165.0 295.7 160.0 297.2 137.0 299.0 129.0 302.0 125.0 311.5 120.0 316.3 116.0 318.1 112.0 318.4 105.0ZM414.0 248.0 414.0 269.6 409.0 270.2 405.0 271.3 391.0 277.1 388.0 279.1 381.0 286.0 371.0 292.1 362.0 298.5 359.0 300.0 354.0 301.0 348.0 301.0 340.5 299.0 337.6 297.0 337.5 296.0 338.2 295.0 342.0 292.1 344.0 289.9 349.4 280.0 353.0 276.8 357.0 274.8 369.0 270.9 378.6 265.0 405.0 250.9 410.0 248.8ZM132.0 329.1 148.0 328.4 152.0 329.8 154.0 332.2 154.9 336.0 156.3 357.0 159.8 367.0 160.5 372.0 160.0 376.0 159.0 378.7 157.0 381.4 155.0 382.6 152.0 382.4 150.0 381.1 146.1 375.0 144.8 369.0 145.0 358.0 143.4 354.0 141.0 351.1 138.0 349.1 135.0 347.9 132.0 347.6ZM414.0 337.7 414.0 388.5 410.0 389.2 406.0 390.8 392.0 397.5 387.7 401.0 372.4 427.0 364.1 444.0 362.3 451.0 310.2 451.0 311.8 443.0 317.8 427.0 328.0 411.0 332.0 405.8 354.9 385.0 367.6 371.0 377.9 362.0 385.0 354.8 408.0 339.8 411.0 338.4Z"/><path fill="#aaff55" fill-rule="evenodd" d="M340.5 105.0 340.4 115.0 345.2 142.0 344.8 149.0 342.9 155.0 338.7 163.0 334.7 168.0 324.8 178.0 321.9 183.0 319.1 193.0 319.5 207.0 316.7 224.0 315.1 230.0 313.4 233.0 311.0 235.5 302.6 240.0 292.0 243.7 288.0 244.0 285.0 243.3 282.0 241.2 276.0 231.3 270.3 225.0 265.6 218.0 257.1 209.0 256.2 207.0 256.4 204.0 259.0 200.9 264.0 198.7 273.0 197.5 291.0 197.7 298.0 195.6 303.7 192.0 305.0 189.0 304.8 186.0 301.6 175.0 296.9 164.0 296.1 160.0 297.5 138.0 299.2 130.0 301.0 127.0 303.0 125.1 312.8 120.0 317.3 116.0 319.1 112.0 319.2 105.0ZM414.0 249.3 414.0 268.5 407.0 269.7 390.0 276.4 386.4 279.0 379.5 286.0 359.0 298.9 355.0 299.8 350.0 299.8 346.0 298.9 343.2 297.0 343.0 295.0 349.0 282.0 351.2 279.0 353.7 277.0 358.0 275.0 370.8 271.0 392.0 258.9 408.0 251.0ZM132.0 330.9 147.0 329.9 150.4 331.0 152.2 333.0 153.1 336.0 154.1 345.0 154.4 356.0 158.4 366.0 159.5 371.0 159.4 374.0 158.6 377.0 157.0 379.6 155.0 381.1 152.0 381.1 150.0 379.9 148.0 377.3 146.4 374.0 145.6 368.0 146.6 358.0 144.9 353.0 142.3 350.0 139.0 347.7 136.0 346.4 132.0 345.9ZM414.0 339.8 414.0 387.0 410.0 387.7 406.0 389.2 391.0 396.6 386.8 400.0 371.6 425.0 362.5 444.0 360.7 451.0 311.0 451.0 312.5 443.0 318.3 428.0 322.0 422.0 333.0 407.7 347.0 394.5 358.0 385.0 369.2 372.0 379.0 363.2 387.0 355.0 408.0 341.8Z"/><path fill="#baff45" fill-rule="evenodd" d="M338.3 105.0 338.0 114.0 344.2 141.0 344.5 145.0 344.0 149.0 342.0 155.0 337.9 163.0 333.0 168.9 322.2 179.0 316.7 190.0 316.2 193.0 318.4 200.0 318.8 206.0 317.0 219.0 314.7 229.0 313.1 232.0 311.0 234.4 303.1 239.0 293.0 242.7 289.0 243.2 286.0 242.6 282.4 240.0 276.7 231.0 271.0 224.7 266.3 218.0 258.8 210.0 257.2 207.0 257.5 204.0 259.0 202.0 261.0 200.6 267.0 198.7 274.0 198.0 289.0 198.4 294.0 197.6 301.0 195.0 304.5 193.0 306.7 191.0 307.2 190.0 307.1 188.0 297.6 165.0 296.6 161.0 296.5 156.0 297.8 140.0 299.5 131.0 301.0 128.1 303.0 126.0 313.9 120.0 318.5 116.0 320.3 112.0 320.2 105.0ZM414.0 250.9 414.0 267.2 407.0 268.5 389.0 275.6 385.6 278.0 379.0 285.3 359.0 297.6 356.0 298.4 352.0 298.5 349.0 297.9 346.5 296.0 346.2 293.0 349.0 284.0 351.2 280.0 354.0 277.5 358.0 275.6 372.0 271.5 392.0 260.1 403.0 255.6 410.0 252.0ZM132.0 333.5 136.0 333.4 145.0 331.9 148.0 332.6 150.0 334.5 152.0 345.0 151.4 356.0 157.0 365.4 158.5 371.0 157.8 376.0 156.7 378.0 155.0 379.5 152.0 379.8 150.0 378.6 148.0 375.8 146.9 373.0 146.5 367.0 149.3 357.0 148.7 354.0 145.5 350.0 141.0 346.4 136.0 343.9 132.0 343.5ZM414.0 341.7 414.0 385.6 410.0 386.1 406.0 387.6 390.0 395.6 385.8 399.0 370.7 423.0 360.7 444.0 358.9 451.0 311.7 451.0 313.3 443.0 319.0 428.5 322.0 423.9 334.0 409.5 348.2 396.0 360.0 386.3 370.9 373.0 380.0 364.5 388.0 355.9 392.0 353.0 406.0 344.6 410.0 342.7Z"/><path fill="#cbff34" fill-rule="evenodd" d="M336.3 105.0 335.5 111.0 335.6 114.0 339.0 124.0 343.4 142.0 343.6 146.0 342.6 151.0 337.7 162.0 334.0 167.0 329.0 171.8 322.3 177.0 315.0 185.9 313.0 187.0 311.0 187.0 308.0 185.0 306.0 182.6 298.9 167.0 297.2 162.0 297.1 154.0 298.4 139.0 299.5 133.0 301.0 129.3 303.0 126.9 315.1 120.0 319.7 116.0 321.6 112.0 321.2 105.0ZM312.0 193.4 314.0 194.7 316.0 197.3 317.2 200.0 317.9 204.0 317.1 215.0 314.3 228.0 312.1 232.0 309.0 234.9 301.5 239.0 294.0 241.8 288.0 242.2 286.0 241.6 283.7 240.0 277.6 231.0 271.5 224.0 267.0 218.0 259.7 210.0 258.1 207.0 258.2 205.0 260.0 202.3 262.0 201.0 266.0 199.5 274.0 198.5 291.0 198.7 297.0 197.3 307.0 193.4 310.0 193.0ZM414.0 253.2 414.0 265.3 408.0 266.4 397.9 271.0 387.0 275.0 384.0 277.5 380.0 283.0 377.8 285.0 361.0 295.5 358.0 296.6 354.0 297.0 351.0 296.4 349.0 294.9 348.2 293.0 348.2 291.0 349.5 285.0 351.3 281.0 354.4 278.0 358.7 276.0 373.7 272.0 378.0 270.0 385.3 265.0 392.0 261.4ZM142.0 337.9 144.0 337.3 145.1 338.0 146.7 344.0 145.1 344.0 144.0 343.0 142.0 339.8ZM414.0 343.4 414.0 384.3 409.0 384.9 405.0 386.4 397.0 390.9 389.0 394.6 384.7 398.0 369.6 421.0 358.3 445.0 356.8 451.0 312.5 451.0 314.4 442.0 319.8 429.0 323.0 424.5 334.4 412.0 350.1 397.0 361.7 388.0 372.8 374.0 390.1 356.0 406.0 346.1 410.0 344.3ZM151.0 361.4 153.0 362.2 155.0 364.4 156.8 368.0 157.5 371.0 157.3 374.0 156.5 376.0 155.0 377.8 153.0 378.5 151.0 378.0 149.1 376.0 147.4 371.0 148.1 365.0 149.0 363.0Z"/><path fill="#dbff24" fill-rule="evenodd" d="M334.1 105.0 332.8 110.0 332.7 113.0 337.7 124.0 342.1 140.0 342.8 145.0 341.8 151.0 336.9 162.0 332.3 168.0 328.0 171.8 321.8 176.0 315.0 182.8 313.0 183.8 310.0 183.7 307.0 181.8 305.0 178.8 299.4 167.0 297.7 162.0 297.6 153.0 298.7 140.0 300.0 133.2 301.3 130.0 304.0 126.9 314.8 121.0 321.2 116.0 323.3 112.0 322.4 105.0ZM312.0 195.7 314.0 197.1 315.9 200.0 317.2 206.0 316.0 218.0 313.6 228.0 311.1 232.0 308.0 234.6 300.0 238.9 294.0 241.0 288.0 241.3 284.1 239.0 277.8 230.0 260.5 210.0 259.1 207.0 259.3 205.0 261.0 202.6 263.6 201.0 268.0 199.7 275.0 198.9 290.0 199.4 296.0 198.2 306.0 195.0 309.0 194.8ZM414.0 257.0 414.0 262.1 409.0 262.2 399.3 269.0 385.0 273.6 383.0 275.4 379.1 282.0 377.3 284.0 364.0 292.9 360.0 294.8 356.0 295.6 352.7 295.0 350.3 293.0 349.7 289.0 350.7 284.0 352.2 281.0 355.6 278.0 360.0 276.3 372.0 273.9 378.5 272.0 382.0 270.1 388.3 265.0 393.0 262.5 398.0 261.0 408.0 259.8ZM414.0 344.9 414.0 382.9 409.0 383.5 404.0 385.2 396.0 389.7 388.0 393.3 383.4 397.0 377.0 407.4 370.9 415.0 368.4 419.0 361.4 435.0 356.0 445.0 354.5 451.0 313.2 451.0 314.2 445.0 317.0 437.2 320.3 430.0 324.0 425.2 351.0 398.9 364.2 389.0 374.1 376.0 391.2 357.0 405.0 347.9 410.0 345.7ZM151.0 364.3 152.0 364.3 154.0 365.7 156.1 370.0 155.9 374.0 154.7 376.0 153.0 376.9 151.0 376.4 150.0 375.5 148.5 372.0 148.8 367.0 150.0 364.9Z"/><path fill="#ecff13" fill-rule="evenodd" d="M324.2 105.0 331.4 105.0 330.0 107.6 328.0 109.2 326.0 108.3ZM328.0 113.7 333.7 119.0 337.0 125.2 341.6 142.0 341.9 146.0 341.2 150.0 336.7 161.0 332.0 167.4 327.0 171.7 320.2 176.0 315.0 180.5 312.0 181.8 310.0 181.7 308.0 180.8 306.0 178.7 300.0 167.4 298.1 162.0 297.9 154.0 299.0 141.0 300.1 135.0 302.0 130.1 304.9 127.0 316.0 121.0 325.0 114.6 327.0 113.6ZM312.0 197.3 315.0 200.6 316.4 206.0 315.4 218.0 313.0 227.5 311.0 230.9 308.0 233.6 300.0 238.1 293.0 240.4 288.0 240.3 285.0 238.6 278.0 229.0 262.2 211.0 260.1 207.0 260.4 205.0 262.0 202.9 265.0 201.2 269.0 200.0 275.0 199.4 291.0 199.8 306.0 196.1 309.0 196.2ZM399.7 265.0 398.5 267.0 395.0 268.7 391.0 269.1 389.4 268.0 390.9 266.0 394.9 264.0 398.0 263.8 399.0 264.0ZM378.5 276.0 378.5 279.0 376.4 283.0 366.0 290.8 361.0 293.4 358.0 294.2 354.0 293.7 351.8 292.0 350.9 289.0 351.6 284.0 353.1 281.0 356.0 278.5 360.0 276.9 369.0 275.5 376.0 275.0ZM414.0 346.3 414.0 381.6 408.0 382.3 403.0 384.0 395.0 388.3 387.0 391.7 382.0 395.5 376.0 405.2 366.3 418.0 359.1 435.0 353.4 445.0 351.9 451.0 313.9 451.0 314.7 446.0 317.0 439.2 320.9 431.0 324.0 426.9 345.3 408.0 353.0 400.0 363.6 393.0 367.0 390.1 379.9 373.0 393.5 357.0 405.0 349.3 410.0 347.1ZM151.0 367.3 153.0 367.7 154.4 370.0 154.4 373.0 153.0 374.7 151.0 374.3 150.0 372.8 149.9 369.0Z"/><path fill="#fcff03" fill-rule="evenodd" d="M328.0 117.0 331.0 118.5 333.0 120.4 336.6 127.0 340.8 142.0 341.1 146.0 340.2 151.0 335.5 162.0 331.0 167.6 327.0 170.9 320.0 175.0 315.0 178.7 312.0 180.0 310.0 179.9 308.0 179.1 306.0 177.1 300.8 168.0 298.5 162.0 298.3 153.0 299.4 141.0 300.6 135.0 302.8 130.0 306.0 127.0 323.0 117.7 326.0 116.8ZM311.0 198.1 313.0 199.7 314.6 202.0 315.7 207.0 314.8 218.0 312.5 227.0 310.0 230.9 307.4 233.0 298.2 238.0 293.0 239.6 288.0 239.3 285.0 237.2 278.0 227.8 263.0 211.0 261.0 207.0 261.4 205.0 263.1 203.0 266.0 201.5 270.0 200.4 276.0 199.9 291.0 200.4 306.0 197.1ZM375.1 278.0 375.7 280.0 374.5 283.0 370.1 287.0 365.0 290.4 361.0 292.3 358.0 292.9 355.0 292.5 353.0 290.8 352.1 288.0 352.5 284.0 354.1 281.0 356.4 279.0 361.0 277.4 367.0 276.6 372.0 276.7ZM414.0 347.6 414.0 380.2 408.0 380.7 403.0 382.2 385.0 389.9 380.0 393.3 372.9 405.0 366.3 413.0 363.6 417.0 356.8 434.0 350.3 445.0 349.0 451.0 314.7 451.0 315.5 446.0 317.5 440.0 321.0 432.7 324.0 428.7 334.0 421.3 347.0 410.0 355.7 401.0 366.2 395.0 370.2 392.0 373.5 388.0 385.9 369.0 391.2 362.0 395.8 357.0 401.0 353.0 406.0 350.1 410.0 348.4Z"/><path fill="#fff200" fill-rule="evenodd" d="M328.0 118.7 331.0 120.3 333.0 122.3 336.4 129.0 340.2 143.0 340.2 147.0 339.2 152.0 334.8 162.0 330.0 167.7 326.0 170.8 314.0 177.7 310.0 178.3 307.0 176.7 304.0 172.7 300.7 167.0 299.0 162.0 298.8 152.0 299.9 141.0 301.0 135.5 303.0 130.8 306.0 127.8 322.0 119.3 325.0 118.4ZM312.9 224.0 310.5 229.0 307.0 232.3 296.0 238.0 292.0 238.9 289.0 238.6 287.0 237.7 285.2 236.0 273.3 221.0 264.7 212.0 262.6 209.0 262.1 206.0 263.3 204.0 265.0 202.7 271.0 200.8 276.0 200.4 290.0 201.0 304.0 198.1 309.0 198.4 311.0 199.4 313.0 201.3 314.8 206.0 314.6 215.0ZM372.3 279.0 373.2 281.0 372.6 283.0 369.8 286.0 365.0 289.4 361.0 291.2 358.0 291.7 355.4 291.0 354.0 289.6 353.2 287.0 353.5 284.0 355.0 281.1 357.0 279.5 361.0 278.1 366.0 277.6 370.0 277.9ZM414.0 348.9 414.0 378.8 405.0 379.7 392.0 384.0 388.0 384.5 384.9 384.0 384.0 383.0 383.8 381.0 385.7 375.0 390.1 367.0 395.3 360.0 399.2 356.0 404.0 352.5 409.0 350.1ZM368.2 401.0 368.6 403.0 367.7 405.0 362.1 412.0 359.7 416.0 354.0 432.0 347.3 444.0 346.0 451.0 315.4 451.0 316.2 446.0 318.0 440.9 321.0 434.8 324.0 430.5 327.0 428.1 337.4 422.0 351.0 411.2 358.0 403.8 364.0 401.0 367.0 400.6Z"/><path fill="#ffe100" fill-rule="evenodd" d="M328.0 120.1 331.0 121.9 334.0 125.7 338.3 138.0 339.6 145.0 338.2 153.0 334.0 162.1 328.7 168.0 325.0 170.6 314.0 176.3 311.0 176.9 309.0 176.5 306.0 174.3 304.0 171.8 301.0 166.5 299.4 162.0 299.0 157.0 300.3 141.0 301.7 135.0 304.0 130.5 307.0 127.9 322.0 120.3 325.0 119.7ZM312.2 224.0 309.5 229.0 305.0 232.5 295.0 237.3 292.0 237.9 289.0 237.5 286.0 235.4 274.5 221.0 265.6 212.0 263.5 209.0 263.2 206.0 264.6 204.0 266.0 203.0 272.0 201.2 277.0 200.9 290.0 201.6 304.0 198.9 309.0 199.5 312.3 202.0 314.0 206.0 313.9 215.0ZM370.2 280.0 370.9 282.0 370.1 284.0 368.0 286.1 364.0 288.8 361.0 290.0 358.0 290.4 356.0 289.5 355.0 288.4 354.4 286.0 354.6 284.0 355.5 282.0 357.8 280.0 361.0 279.0 365.0 278.6 368.2 279.0ZM414.0 350.3 414.0 377.3 406.0 377.7 395.0 379.6 392.0 379.0 390.9 378.0 390.2 376.0 390.9 372.0 393.2 367.0 397.8 360.0 401.4 356.0 405.0 353.4 410.0 351.1ZM350.0 422.0 350.0 426.0 344.0 442.7 343.1 451.0 316.2 451.0 317.0 446.0 319.0 440.6 322.0 435.1 325.0 431.4 330.0 428.6 340.0 425.7 347.0 421.4 349.0 421.2Z"/><path fill="#ffd100" fill-rule="evenodd" d="M327.0 121.1 329.2 122.0 331.7 124.0 335.0 130.0 338.8 143.0 338.7 148.0 337.5 153.0 333.3 162.0 331.1 165.0 328.0 167.8 315.0 174.7 312.0 175.6 309.0 175.2 306.0 173.2 304.0 170.8 301.2 166.0 299.8 162.0 299.4 157.0 300.6 142.0 301.9 136.0 304.4 131.0 308.1 128.0 321.0 121.6 324.0 120.8ZM311.8 223.0 309.0 228.4 304.1 232.0 295.0 236.3 292.0 236.8 289.0 236.3 286.0 234.0 275.7 221.0 266.4 212.0 264.5 209.0 264.3 206.0 265.9 204.0 267.6 203.0 273.0 201.6 290.0 202.2 303.0 199.8 308.0 200.1 311.0 202.0 313.2 206.0 313.4 214.0ZM368.2 281.0 368.7 282.0 368.1 284.0 366.2 286.0 363.0 288.0 359.0 289.0 357.0 288.3 356.0 287.0 355.8 284.0 356.8 282.0 358.0 281.0 361.0 279.9 364.0 279.7 366.4 280.0ZM414.0 351.7 414.0 375.7 401.0 375.5 397.0 374.5 395.7 372.0 396.0 369.0 397.9 364.0 401.0 359.0 403.8 356.0 406.8 354.0 410.0 352.5ZM338.3 433.0 339.5 435.0 340.2 438.0 340.6 451.0 317.0 451.0 317.6 447.0 319.3 442.0 322.0 437.1 325.0 433.5 328.0 431.5 332.0 430.5 335.5 431.0Z"/><path fill="#ffc100" fill-rule="evenodd" d="M327.0 122.2 330.0 123.8 332.7 127.0 336.6 137.0 338.3 145.0 336.9 153.0 332.6 162.0 328.0 167.1 325.0 169.0 315.0 173.7 312.0 174.4 309.0 174.1 306.0 172.3 304.0 169.9 301.3 165.0 300.1 161.0 299.8 155.0 300.5 146.0 302.5 136.0 305.3 131.0 309.4 128.0 321.0 122.5 324.0 121.8ZM311.1 223.0 308.0 228.2 303.0 231.6 295.0 235.1 292.0 235.6 289.2 235.0 286.0 232.5 276.0 220.0 267.4 212.0 265.4 209.0 265.4 206.0 268.0 203.7 273.0 202.2 290.0 202.8 303.0 200.6 308.0 201.1 311.0 203.4 312.5 207.0 312.6 215.0ZM365.8 282.0 365.8 284.0 363.0 286.4 360.0 287.3 358.6 287.0 357.6 286.0 357.4 284.0 359.0 281.8 363.0 281.0ZM414.0 353.2 414.0 373.7 406.9 373.0 403.0 371.9 401.0 370.1 400.4 368.0 400.7 365.0 402.3 361.0 404.4 358.0 407.0 355.7 410.3 354.0ZM317.8 451.0 318.4 447.0 319.8 443.0 324.0 436.5 327.0 434.2 330.0 433.4 333.0 433.8 335.0 435.2 336.8 438.0 337.7 441.0 338.7 451.0Z"/><path fill="#ffb100" fill-rule="evenodd" d="M327.0 123.2 330.0 125.0 332.4 128.0 336.6 139.0 337.6 146.0 335.9 154.0 331.9 162.0 327.0 167.0 315.0 172.8 312.0 173.4 309.0 173.1 306.0 171.3 304.0 169.0 301.8 165.0 300.6 161.0 300.2 156.0 301.4 142.0 302.7 137.0 304.0 134.0 306.0 131.3 310.7 128.0 321.0 123.3 324.0 122.7ZM310.6 222.0 308.0 227.0 304.0 230.0 295.0 234.0 292.0 234.3 290.0 233.9 286.0 230.9 277.3 220.0 269.0 212.7 266.9 210.0 266.2 207.0 268.0 204.6 273.0 202.8 278.0 202.6 290.0 203.5 302.0 201.5 307.0 201.7 310.0 203.7 311.6 207.0 312.0 214.0ZM414.0 354.9 414.0 371.1 410.0 370.4 406.6 369.0 404.8 367.0 404.3 365.0 405.3 361.0 407.4 358.0 410.1 356.0ZM333.6 438.0 336.0 443.0 337.0 451.0 318.7 451.0 319.4 447.0 320.9 443.0 323.0 439.6 325.0 437.6 327.0 436.4 330.0 436.0 332.0 436.7Z"/><path fill="#ffa000" fill-rule="evenodd" d="M327.0 124.2 330.0 126.3 332.0 129.0 336.2 140.0 336.9 147.0 335.2 154.0 331.0 162.2 326.0 167.0 315.0 171.9 312.0 172.5 309.0 172.2 306.0 170.4 304.0 168.1 302.0 164.4 301.0 161.0 300.6 156.0 301.9 142.0 303.2 137.0 306.0 132.3 312.0 128.0 321.0 124.1 324.0 123.7ZM310.0 221.5 307.6 226.0 303.0 229.5 295.0 232.7 292.0 232.9 290.0 232.5 286.0 229.3 278.8 220.0 269.4 212.0 267.5 209.0 267.4 207.0 269.0 205.0 274.0 203.3 290.0 204.1 302.0 202.2 307.0 202.7 309.8 205.0 311.0 208.6 311.2 215.0ZM414.0 357.2 414.0 367.7 409.9 366.0 408.6 363.0 409.1 361.0 410.5 359.0ZM319.6 451.0 321.0 445.2 324.0 440.5 326.0 439.0 328.0 438.5 330.0 438.7 332.0 440.0 334.3 444.0 335.4 451.0Z"/><path fill="#ff9000" fill-rule="evenodd" d="M326.0 124.9 329.0 126.5 331.0 128.9 335.3 139.0 336.4 146.0 335.0 153.0 330.4 162.0 326.3 166.0 315.0 171.1 312.0 171.6 309.0 171.3 306.0 169.5 304.0 167.1 301.5 161.0 301.1 156.0 302.1 143.0 303.4 138.0 306.0 133.3 311.5 129.0 320.0 125.2 323.0 124.6ZM268.7 207.0 270.8 205.0 275.0 203.9 290.0 204.9 302.0 203.1 306.0 203.4 309.0 205.6 310.2 209.0 310.3 216.0 309.0 221.9 306.3 226.0 301.0 229.4 295.0 231.4 290.3 231.0 287.0 228.6 279.3 219.0 270.6 212.0 268.7 209.0ZM320.6 451.0 322.0 445.8 325.0 441.9 328.0 440.9 330.0 441.6 331.4 443.0 333.0 446.2 333.9 451.0Z"/><path fill="#ff8000" fill-rule="evenodd" d="M326.0 125.8 329.0 127.7 330.7 130.0 334.9 140.0 335.7 147.0 334.0 154.0 330.0 161.4 326.0 165.4 315.0 170.3 312.0 170.8 309.0 170.4 306.0 168.6 304.0 166.1 302.5 163.0 301.8 160.0 301.5 155.0 301.9 148.0 302.8 142.0 304.0 138.0 307.0 133.3 312.8 129.0 321.0 125.7 324.0 125.4ZM309.0 219.1 307.0 223.7 303.2 227.0 297.0 229.6 292.0 229.8 288.0 227.6 281.1 219.0 271.9 212.0 270.4 210.0 270.0 207.6 271.1 206.0 275.0 204.7 290.0 205.7 301.0 204.0 305.0 204.2 307.9 206.0 309.0 208.4 309.6 213.0ZM321.8 451.0 322.5 448.0 324.0 445.3 327.0 443.5 328.9 444.0 330.0 445.0 331.6 448.0 332.1 451.0Z"/><path fill="#ff7000" fill-rule="evenodd" d="M326.0 126.8 328.0 128.0 330.0 130.3 333.0 136.4 334.6 141.0 335.1 147.0 333.4 154.0 329.0 161.7 325.4 165.0 315.0 169.5 312.0 170.0 309.0 169.5 307.0 168.5 305.0 166.6 303.0 163.0 302.3 160.0 302.2 149.0 303.0 143.3 304.2 139.0 307.0 134.4 313.0 129.7 321.0 126.5 324.0 126.3ZM308.0 219.0 306.1 223.0 302.5 226.0 297.0 228.1 292.0 228.0 288.0 225.4 282.0 218.0 273.6 212.0 271.9 210.0 271.5 208.0 273.0 206.3 276.0 205.5 290.0 206.8 300.0 205.1 304.0 205.1 306.1 206.0 308.0 209.0 308.7 214.0ZM323.4 451.0 325.0 447.5 327.0 446.7 329.0 448.1 330.1 451.0Z"/><path fill="#ff5f00" fill-rule="evenodd" d="M326.0 127.8 329.5 131.0 332.1 136.0 333.9 141.0 334.5 147.0 332.7 154.0 329.0 160.5 325.0 164.4 315.0 168.7 311.0 169.1 308.0 168.2 306.0 166.8 304.0 164.0 302.5 158.0 303.0 146.0 305.0 138.5 308.4 134.0 315.0 129.5 321.0 127.3 324.0 127.2ZM273.8 208.0 275.1 207.0 277.0 206.7 289.0 208.1 300.0 206.2 304.0 206.6 306.0 208.1 307.3 211.0 307.6 215.0 307.0 218.6 305.0 222.3 302.0 224.8 297.0 226.5 293.0 226.2 289.4 224.0 283.4 217.0 274.7 211.0 273.6 209.0Z"/><path fill="#ff4f00" fill-rule="evenodd" d="M325.0 128.4 327.0 129.5 329.0 131.8 333.0 140.0 334.0 146.0 332.5 153.0 329.0 159.4 325.0 163.6 320.0 166.2 315.0 167.9 312.0 168.3 309.0 167.8 307.0 166.7 305.0 164.5 303.1 159.0 303.1 149.0 305.0 140.0 308.0 135.5 314.0 130.9 320.0 128.4ZM306.0 217.0 304.8 220.0 302.0 222.9 299.0 224.2 295.0 224.4 292.2 223.0 286.0 216.1 277.7 210.0 278.0 209.0 279.0 208.8 289.0 210.0 298.3 208.0 302.0 207.9 304.0 208.7 305.6 211.0 306.3 214.0Z"/><path fill="#ff3f00" fill-rule="evenodd" d="M325.0 129.4 327.0 130.8 329.0 133.3 332.7 141.0 333.4 147.0 331.9 153.0 328.0 159.6 324.0 163.3 315.0 167.2 312.0 167.5 309.0 166.9 307.0 165.8 305.4 164.0 303.7 159.0 303.5 150.0 305.2 141.0 308.0 136.5 314.0 131.8 320.0 129.3 323.0 129.0ZM302.0 210.3 303.7 212.0 304.3 214.0 304.0 217.0 303.1 219.0 301.0 220.9 299.0 221.7 297.0 221.8 295.0 221.0 291.6 217.0 291.1 214.0 293.1 212.0 296.0 210.7 299.0 209.9Z"/><path fill="#ff2f00" fill-rule="evenodd" d="M325.0 130.6 329.0 134.6 332.3 142.0 332.8 147.0 331.0 153.5 327.0 159.7 323.0 163.0 315.0 166.3 312.0 166.7 309.0 166.0 307.0 164.7 305.6 163.0 304.0 157.4 304.2 148.0 306.0 140.7 309.6 136.0 315.0 132.2 321.0 130.1ZM297.7 215.0 299.0 214.2 300.0 214.7 300.1 216.0 299.0 216.8 298.0 216.5Z"/><path fill="#ff1e00" fill-rule="evenodd" d="M324.0 131.4 326.0 132.5 328.0 134.6 331.4 141.0 332.1 147.0 330.5 153.0 327.0 158.6 321.4 163.0 314.0 165.7 311.0 165.7 309.0 165.0 306.0 162.3 304.5 157.0 304.6 149.0 306.2 142.0 309.0 137.7 314.0 133.7 320.0 131.3Z"/><path fill="#ff0e00" fill-rule="evenodd" d="M324.0 132.6 326.0 133.7 328.0 135.9 331.0 142.0 331.5 147.0 329.8 153.0 326.0 158.6 320.0 162.8 314.0 164.8 311.0 164.7 309.0 164.0 306.3 161.0 305.0 156.0 305.3 148.0 306.9 142.0 310.0 137.8 315.0 134.1 320.0 132.3Z"/><path fill="#fd0000" fill-rule="evenodd" d="M324.0 133.8 326.0 135.0 327.9 137.0 330.3 142.0 330.9 147.0 329.1 153.0 325.4 158.0 319.5 162.0 314.0 163.8 310.0 163.3 308.1 162.0 307.0 160.4 305.7 156.0 305.7 149.0 307.3 143.0 310.0 138.9 315.0 135.1 320.0 133.4Z"/><path fill="#ee0000" fill-rule="evenodd" d="M324.0 134.9 326.0 136.2 327.6 138.0 329.9 143.0 330.1 148.0 328.3 153.0 325.0 157.3 319.0 161.1 314.0 162.8 310.0 162.0 307.4 159.0 306.2 154.0 306.6 148.0 308.1 143.0 311.0 139.1 315.0 136.1 320.0 134.5Z"/><path fill="#df0000" fill-rule="evenodd" d="M324.0 136.1 327.0 138.6 329.2 143.0 329.5 147.0 328.0 152.1 325.0 156.1 319.0 159.9 315.0 161.4 311.0 161.0 308.2 158.0 307.1 154.0 307.3 148.0 309.0 143.1 312.0 139.3 316.0 136.7 320.0 135.5Z"/><path fill="#d00000" fill-rule="evenodd" d="M324.0 137.3 327.0 140.0 328.6 144.0 328.6 148.0 327.0 152.3 324.0 155.7 318.0 159.2 314.0 160.1 311.0 159.3 309.0 157.0 308.0 153.0 308.2 148.0 310.0 143.1 313.0 139.7 317.0 137.3 321.0 136.6Z"/><path fill="#c10000" fill-rule="evenodd" d="M324.0 138.5 326.5 141.0 328.0 145.0 327.8 148.0 326.2 152.0 324.0 154.4 319.0 157.4 315.0 158.6 312.0 158.0 310.0 156.0 308.9 152.0 309.4 147.0 311.0 143.3 314.0 140.1 317.0 138.4 321.0 137.7Z"/><path fill="#b20000" fill-rule="evenodd" d="M324.0 139.9 326.0 141.9 327.1 145.0 326.9 148.0 325.0 152.0 322.0 154.5 318.0 156.5 315.0 157.0 312.1 156.0 310.7 154.0 310.0 150.0 310.8 146.0 312.0 143.7 314.6 141.0 318.0 139.3 321.0 138.9Z"/><path fill="#a30000" fill-rule="evenodd" d="M323.2 141.0 325.0 142.5 326.0 145.0 325.9 148.0 324.3 151.0 322.0 153.1 318.0 155.0 315.0 155.2 313.0 154.3 312.0 153.0 311.3 150.0 311.7 147.0 313.2 144.0 315.2 142.0 318.0 140.6 321.0 140.3Z"/><path fill="#940000" fill-rule="evenodd" d="M323.0 142.7 324.2 144.0 324.9 146.0 324.5 148.0 323.0 150.4 321.0 152.0 318.0 153.2 316.0 153.3 314.0 152.3 313.0 150.2 313.0 148.0 315.0 144.0 319.0 141.8 321.0 141.8Z"/><path fill="#850000" fill-rule="evenodd" d="M321.1 144.0 322.8 146.0 321.7 149.0 319.0 150.8 317.0 150.9 316.0 150.4 315.1 148.0 316.0 145.6 318.2 144.0Z"/></g><path d="M194.5 56V563M265.5 56V563M336.5 56V563M407.5 56V563M477.5 56V563M548.5 56V563M619.5 56V563M125 106.5H674M125 191.5H674M125 276.5H674M125 360.5H674M125 445.5H674M125 530.5H674" stroke="#9a9a9a" stroke-width="1" stroke-dasharray="2 4.5" fill="none" shape-rendering="crispEdges"/><path d="M124 144.7 L133 149.2 L142 149.2 L148.5 152.5 L162.7 152.5 L166 151.2 L162.7 146 L171.2 136.3 L182.2 142.7 L188.7 142.1 L193.8 135.6 L204.2 130.4 L213.3 127.8 L219 125.9 L223 121.4 L237.2 116.2 L244.3 118.8 L252.7 116.2 L261.8 120 L276 124.6 L285.1 132.4 L289 141.5 L289.7 154.4M289.7 154.4 L283.2 155.7 L284.5 160.9 L289.7 165.4 L292.3 166.7 L289 172.5 L287.9 177.8 L287.2 192.7 L284.7 199.8 L283.4 211.4 L281.4 216 L277.5 219.8 L273.7 221.8 L260.7 222.4 L251.7 224.4 L240 225.4 L230 225 L222 226 L214 228.5 L205 231.5M349 55 L342 60 L334 67 L326 74 L315 79 L310 83 L304 85 L299 89.5 L290 100 L287.7 102.6 L281 108.5 L281 111 L284.5 116 L289.5 112 L295 115.5 L299 114 L301 114 L300 122 L302.4 131 L300.7 142.7 L299.4 153.5 L289.7 154.4M284 55 L283.3 61 L279.4 78 L279.4 91 L281.4 97.3 L289.8 97.3 L296 91M291.5 55 L292.4 71.4 L297.5 79.2 L298.6 87 L298.8 89.5M327.3 55 L329.9 61 L324.7 66.2 L320.8 61.7 L314.4 63 L309.8 68.8 L309.2 72 L314.4 76 L315.7 77.5M214 228.5 L214.6 221 L209.5 219 L202.2 216.2 L200 209 L203.7 201.6 L210.2 198.7 L209.5 195.1 L196.4 190.7 L189.6 189.7 L181.5 194.6 L176.7 201 L175.9 207.5 L180 214 L184.8 220.5 L185.6 228.6 L182 232.8 L174.9 234.7 L170.4 237.3 L167.8 241.2 L166.5 246.4 L165.2 251.5 L169.4 251.9 L174.6 250.9 L179.6 247 L182 240.5 L189 240.5 L192.4 244.4 L193.5 247 L190.4 249.6 L185.9 251 L181 249.5 L179.6 247M191 234.5 L194 241 L203 237 L214 230 L212 228 L200 233 L191 234.5M174 251.5 L167.5 256.4 L163 261 L161 264.2 L160.4 270.7 L159.4 275.2 L159 281.7 L163 275.2 L168.1 270.7 L172.7 266.1 L177.2 262.9 L182.4 259 L184.3 257.7M185.9 251 L185 255 L184.3 257.7 L179.8 262.9 L177.2 267.4 L174.6 272.6 L170.7 276.5 L166.2 281.7 L159.7 286.8 L156.8 291.3 L153.7 296.6 L151.6 302.4 L146.3 304 L143.2 306 L142.4 310 L142.4 316 L144.6 322.3 L147.5 329.4 L143.3 335 L145 339.7 L146.7 353.3 L147.8 361.2 L145.6 370.3 L142.2 379.4 L138.8 388.4 L136.5 393 L135.6 396 L135.6 403.6 L134.3 411 L133.6 414 L135 421 L135.6 432 L138.4 437.3 L137 442.8 L132.9 451 L124.6 460.7M124 404.3 L135.6 403.6" fill="none" stroke="#000" stroke-width="2.7" stroke-linejoin="round" stroke-linecap="round"/><path d="M324.2 116.1L344.7 74.6M344.7 74.6l-3.6 2.2M344.7 74.6l0.4 4.2M358.8 116.1L379.6 94.9M379.6 94.9l-4.1 1.0M379.6 94.9l-0.9 4.1M393.5 116.1L412.9 107.1M412.9 107.1l-4.2 -0.5M412.9 107.1l-2.3 3.5M324.2 146.3L362.6 88.4M362.6 88.4l-3.8 1.8M362.6 88.4l-0.1 4.2M358.8 146.3L377.7 134.4M377.7 134.4l-4.2 0.1M377.7 134.4l-1.9 3.8M393.5 146.3L409.7 142.5M409.7 142.5l-4.0 -1.3M409.7 142.5l-3.0 3.0M289.6 176.5L304.6 163.1M304.6 163.1l-4.1 0.7M304.6 163.1l-1.2 4.0M324.2 176.5L345.0 146.0M345.0 146.0l-3.8 1.7M345.0 146.0l-0.2 4.2M358.8 176.5L374.0 165.0M374.0 165.0l-4.2 0.4M374.0 165.0l-1.5 3.9M393.5 176.5L413.0 168.0M413.0 168.0l-4.2 -0.6M413.0 168.0l-2.4 3.4M289.6 206.8L299.8 153.4M299.8 153.4l-2.8 3.1M299.8 153.4l1.5 3.9M324.2 206.8L346.0 184.0M346.0 184.0l-4.1 1.1M346.0 184.0l-0.9 4.1M358.8 206.8L374.0 192.0M374.0 192.0l-4.1 0.9M374.0 192.0l-1.0 4.1M393.5 206.8L407.6 197.0M407.6 197.0l-4.2 0.2M407.6 197.0l-1.7 3.8M220.3 237.0L228.0 232.4M228.0 232.4l-4.2 -0.1M228.0 232.4l-2.0 3.7M254.9 237.0L278.8 225.0M278.8 225.0l-4.2 -0.4M278.8 225.0l-2.2 3.6M289.6 237.0L328.0 213.0M328.0 213.0l-4.2 0.0M328.0 213.0l-1.9 3.8M324.2 237.0L336.0 222.0M336.0 222.0l-3.9 1.5M336.0 222.0l-0.5 4.2M358.8 237.0L361.0 225.0M361.0 225.0l-2.8 3.1M361.0 225.0l1.5 3.9M393.5 237.0L406.0 218.0M406.0 218.0l-3.8 1.8M406.0 218.0l-0.1 4.2M185.6 267.2L201.0 250.0M201.0 250.0l-4.0 1.2M201.0 250.0l-0.7 4.1M220.3 267.2L248.0 250.0M248.0 250.0l-4.2 0.0M248.0 250.0l-1.9 3.8M254.9 267.2L280.0 246.0M280.0 246.0l-4.2 0.6M280.0 246.0l-1.3 4.0M289.6 267.2L309.1 251.0M309.1 251.0l-4.2 0.6M309.1 251.0l-1.4 4.0M324.2 267.2L330.5 259.7M330.5 259.7l-4.0 1.3M330.5 259.7l-0.6 4.2M358.8 267.2L378.0 247.0M378.0 247.0l-4.1 1.1M378.0 247.0l-0.9 4.1M393.5 267.2L421.0 229.0M421.0 229.0l-3.9 1.6M421.0 229.0l-0.3 4.2M185.6 297.4L206.5 278.0M206.5 278.0l-4.1 0.8M206.5 278.0l-1.1 4.0M220.3 297.4L230.0 281.0M230.0 281.0l-3.7 2.0M230.0 281.0l0.1 4.2M254.9 297.4L263.0 278.0M263.0 278.0l-3.4 2.5M263.0 278.0l0.7 4.1M289.6 297.4L287.8 279.0M287.8 279.0l-1.8 3.8M287.8 279.0l2.5 3.4M324.2 297.4L353.8 287.9M353.8 287.9l-4.1 -1.0M353.8 287.9l-2.7 3.2M358.8 297.4L385.9 268.5M385.9 268.5l-4.0 1.1M385.9 268.5l-0.8 4.1M393.5 297.4L387.8 281.0M387.8 281.0l-0.9 4.1M387.8 281.0l3.2 2.7M151.0 327.6L160.0 292.0M160.0 292.0l-3.0 2.9M160.0 292.0l1.3 4.0M185.6 327.6L201.2 310.0M201.2 310.0l-4.0 1.2M201.2 310.0l-0.7 4.1M220.3 327.6L227.0 313.5M227.0 313.5l-3.5 2.3M227.0 313.5l0.4 4.2M254.9 327.6L261.0 310.0M261.0 310.0l-3.2 2.7M261.0 310.0l0.9 4.1M289.6 327.6L294.6 313.1M294.6 313.1l-3.2 2.7M294.6 313.1l0.9 4.1M324.2 327.6L324.3 317.0M324.3 317.0l-2.2 3.6M324.3 317.0l2.2 3.6M358.8 327.6L348.0 321.0M348.0 321.0l1.9 3.7M348.0 321.0l4.2 -0.0M393.5 327.6L365.5 319.0M365.5 319.0l2.8 3.2M365.5 319.0l4.1 -1.0M151.0 357.9L159.0 318.8M159.0 318.8l-2.9 3.1M159.0 318.8l1.4 3.9M185.6 357.9L194.7 339.0M194.7 339.0l-3.5 2.3M194.7 339.0l0.4 4.2M220.3 357.9L223.0 345.5M223.0 345.5l-2.9 3.0M223.0 345.5l1.4 4.0M254.9 357.9L255.0 344.0M255.0 344.0l-2.2 3.6M255.0 344.0l2.2 3.6M289.6 357.9L281.0 343.3M281.0 343.3l-0.1 4.2M281.0 343.3l3.7 2.0M324.2 357.9L307.2 358.8M307.2 358.8l3.7 2.0M307.2 358.8l3.5 -2.4M358.8 357.9L334.6 365.7M334.6 365.7l4.1 1.0M334.6 365.7l2.7 -3.2M393.5 357.9L349.3 368.0M349.3 368.0l4.0 1.3M349.3 368.0l3.0 -2.9M151.0 388.1L171.0 359.0M171.0 359.0l-3.8 1.7M171.0 359.0l-0.2 4.2M185.6 388.1L197.0 370.0M197.0 370.0l-3.8 1.9M197.0 370.0l-0.0 4.2M220.3 388.1L221.0 376.0M221.0 376.0l-2.4 3.4M221.0 376.0l2.0 3.7M254.9 388.1L244.0 379.0M244.0 379.0l1.3 4.0M244.0 379.0l4.2 0.6M289.6 388.1L270.0 380.4M270.0 380.4l2.5 3.4M270.0 380.4l4.1 -0.7M324.2 388.1L305.1 404.2M305.1 404.2l4.2 -0.6M305.1 404.2l1.3 -4.0M358.8 388.1L325.5 411.0M325.5 411.0l4.2 -0.2M325.5 411.0l1.7 -3.8M393.5 388.1L353.9 401.9M353.9 401.9l4.1 0.9M353.9 401.9l2.7 -3.3M151.0 418.3L160.0 398.0M160.0 398.0l-3.5 2.4M160.0 398.0l0.6 4.2M185.6 418.3L179.0 404.0M179.0 404.0l-0.5 4.2M179.0 404.0l3.5 2.3M220.3 418.3L203.0 412.0M203.0 412.0l2.6 3.3M203.0 412.0l4.1 -0.8M254.9 418.3L236.0 406.0M236.0 406.0l1.8 3.8M236.0 406.0l4.2 0.1M289.6 418.3L274.5 422.3M274.5 422.3l4.0 1.2M274.5 422.3l2.9 -3.0M324.2 418.3L300.6 450.7M300.6 450.7l3.9 -1.6M300.6 450.7l0.3 -4.2M358.8 418.3L321.0 445.0M321.0 445.0l4.2 -0.3M321.0 445.0l1.7 -3.9M393.5 418.3L369.7 421.2M369.7 421.2l3.8 1.7M369.7 421.2l3.3 -2.6M151.0 448.5L170.0 422.0M170.0 422.0l-3.9 1.6M170.0 422.0l-0.3 4.2M185.6 448.5L202.0 441.0M202.0 441.0l-4.2 -0.5M202.0 441.0l-2.3 3.5M220.3 448.5L225.6 423.0M225.6 423.0l-2.9 3.1M225.6 423.0l1.4 4.0M254.9 448.5L261.0 413.0M261.0 413.0l-2.8 3.2M261.0 413.0l1.6 3.9M289.6 448.5L281.3 456.3M281.3 456.3l4.1 -0.9M281.3 456.3l1.1 -4.1M324.2 448.5L294.9 496.0M294.9 496.0l3.7 -1.9M294.9 496.0l0.0 -4.2M358.8 448.5L328.5 459.7M328.5 459.7l4.1 0.8M328.5 459.7l2.6 -3.3M393.5 448.5L374.2 444.3M374.2 444.3l3.0 2.9M374.2 444.3l4.0 -1.4" stroke="#000" stroke-width="1" fill="none" stroke-linecap="round"/><rect x="124" y="55" width="551" height="509" fill="none" stroke="#000" stroke-width="2"/><path d="M124.5 564v4M194.5 564v4M265.5 564v4M336.5 564v4M407.5 564v4M477.5 564v4M548.5 564v4M619.5 564v4M124 106.5h-4M124 191.5h-4M124 276.5h-4M124 360.5h-4M124 445.5h-4M124 530.5h-4" stroke="#000" stroke-width="1.2" fill="none"/><text x="124.0" y="579.6" font-family="Liberation Sans, sans-serif" font-size="13" text-anchor="middle">28.5</text><text x="194.8" y="579.6" font-family="Liberation Sans, sans-serif" font-size="13" text-anchor="middle">29</text><text x="265.5" y="579.6" font-family="Liberation Sans, sans-serif" font-size="13" text-anchor="middle">29.5</text><text x="336.2" y="579.6" font-family="Liberation Sans, sans-serif" font-size="13" text-anchor="middle">30</text><text x="407.0" y="579.6" font-family="Liberation Sans, sans-serif" font-size="13" text-anchor="middle">30.5</text><text x="477.8" y="579.6" font-family="Liberation Sans, sans-serif" font-size="13" text-anchor="middle">31</text><text x="548.5" y="579.6" font-family="Liberation Sans, sans-serif" font-size="13" text-anchor="middle">31.5</text><text x="619.2" y="579.6" font-family="Liberation Sans, sans-serif" font-size="13" text-anchor="middle">32</text><text x="117.5" y="535.5" font-family="Liberation Sans, sans-serif" font-size="13" text-anchor="end">43</text><text x="117.5" y="450.6" font-family="Liberation Sans, sans-serif" font-size="13" text-anchor="end">43.5</text><text x="117.5" y="365.7" font-family="Liberation Sans, sans-serif" font-size="13" text-anchor="end">44</text><text x="117.5" y="280.8" font-family="Liberation Sans, sans-serif" font-size="13" text-anchor="end">44.5</text><text x="117.5" y="195.8" font-family="Liberation Sans, sans-serif" font-size="13" text-anchor="end">45</text><text x="117.5" y="110.9" font-family="Liberation Sans, sans-serif" font-size="13" text-anchor="end">45.5</text><text x="322.3" y="605.8" font-family="Liberation Sans, sans-serif" font-size="19.5" textLength="88" lengthAdjust="spacingAndGlyphs">Longitude</text><text x="421" y="605.8" font-family="Liberation Sans, sans-serif" font-size="19.5" textLength="57" lengthAdjust="spacingAndGlyphs">(East)</text><text transform="translate(83.2,385.5) rotate(-90)" x="0" y="0" font-family="Liberation Sans, sans-serif" font-size="21" textLength="75" lengthAdjust="spacingAndGlyphs">Latitude</text><text transform="translate(83.2,301) rotate(-90)" x="0" y="0" font-family="Liberation Sans, sans-serif" font-size="21" textLength="65" lengthAdjust="spacingAndGlyphs">(North)</text><text x="18.2" y="43.2" font-family="Liberation Sans, sans-serif" font-size="26.5" stroke="#fff" stroke-width="0.35" textLength="82.8" lengthAdjust="spacingAndGlyphs">Current</text><text x="114.4" y="43.2" font-family="Liberation Sans, sans-serif" font-size="26.5" stroke="#fff" stroke-width="0.35" textLength="82.6" lengthAdjust="spacingAndGlyphs">velocity</text><text x="211" y="43.2" font-family="Liberation Sans, sans-serif" font-size="26.5" stroke="#fff" stroke-width="0.35" textLength="78.0" lengthAdjust="spacingAndGlyphs">(m/s).</text><text x="301.6" y="43.2" font-family="Liberation Sans, sans-serif" font-size="26.5" stroke="#fff" stroke-width="0.35" textLength="50.4" lengthAdjust="spacingAndGlyphs">Date</text><text x="366" y="43.2" font-family="Liberation Sans, sans-serif" font-size="26.5" stroke="#fff" stroke-width="0.35" textLength="135.6" lengthAdjust="spacingAndGlyphs">2016.04.06.</text><text x="517.0" y="43.2" font-family="Liberation Sans, sans-serif" font-size="26.5" stroke="#fff" stroke-width="0.35" textLength="50.8" lengthAdjust="spacingAndGlyphs">Time</text><text x="583" y="43.2" font-family="Liberation Sans, sans-serif" font-size="26.5" stroke="#fff" stroke-width="0.35" textLength="140.0" lengthAdjust="spacingAndGlyphs">00(h):00(m)</text><text x="737.6" y="43.2" font-family="Liberation Sans, sans-serif" font-size="26.5" stroke="#fff" stroke-width="0.35" textLength="44.2" lengthAdjust="spacingAndGlyphs">GMT</text><text x="147" y="110" font-family="Liberation Sans, sans-serif" font-size="19.5" fill="#111" stroke="#fff" stroke-width="0.3" textLength="11.4" lengthAdjust="spacingAndGlyphs">Z</text><text x="175.9" y="110" font-family="Liberation Sans, sans-serif" font-size="19.5" fill="#111" stroke="#fff" stroke-width="0.3" textLength="13.1" lengthAdjust="spacingAndGlyphs">=</text><text x="207.4" y="110" font-family="Liberation Sans, sans-serif" font-size="19.5" fill="#111" stroke="#fff" stroke-width="0.3" textLength="11.4" lengthAdjust="spacingAndGlyphs">2</text><text x="228.4" y="110" font-family="Liberation Sans, sans-serif" font-size="19.5" fill="#111" stroke="#fff" stroke-width="0.3" textLength="11.4" lengthAdjust="spacingAndGlyphs">5</text><text x="256.4" y="110" font-family="Liberation Sans, sans-serif" font-size="19.5" fill="#111" stroke="#fff" stroke-width="0.3" textLength="19.2" lengthAdjust="spacingAndGlyphs">m</text><rect x="222" y="107.5" width="2" height="2" fill="#333"/><rect x="708" y="550.80" width="16" height="7.00" fill="#0a37ff"/><rect x="708" y="544.60" width="16" height="7.00" fill="#0a38ff"/><rect x="708" y="538.40" width="16" height="7.00" fill="#0a39ff"/><rect x="708" y="532.20" width="16" height="7.00" fill="#0a3aff"/><rect x="708" y="526.00" width="16" height="7.00" fill="#0a3bff"/><rect x="708" y="519.80" width="16" height="7.00" fill="#0a3cff"/><rect x="708" y="513.60" width="16" height="7.00" fill="#0a3dff"/><rect x="708" y="507.40" width="16" height="7.00" fill="#0a3eff"/><rect x="708" y="501.20" width="16" height="7.00" fill="#0a3fff"/><rect x="708" y="495.00" width="16" height="7.00" fill="#0a40ff"/><rect x="708" y="488.80" width="16" height="7.00" fill="#0a41ff"/><rect x="708" y="482.60" width="16" height="7.00" fill="#0a42ff"/><rect x="708" y="476.40" width="16" height="7.00" fill="#0a43ff"/><rect x="708" y="470.20" width="16" height="7.00" fill="#0a44ff"/><rect x="708" y="464.00" width="16" height="7.00" fill="#0a45ff"/><rect x="708" y="457.80" width="16" height="7.00" fill="#0a46ff"/><rect x="708" y="451.60" width="16" height="7.00" fill="#0a4dff"/><rect x="708" y="445.40" width="16" height="7.00" fill="#095aff"/><rect x="708" y="439.20" width="16" height="7.00" fill="#0867ff"/><rect x="708" y="433.00" width="16" height="7.00" fill="#0874ff"/><rect x="708" y="426.80" width="16" height="7.00" fill="#0781ff"/><rect x="708" y="420.60" width="16" height="7.00" fill="#068eff"/><rect x="708" y="414.40" width="16" height="7.00" fill="#059bff"/><rect x="708" y="408.20" width="16" height="7.00" fill="#05a8ff"/><rect x="708" y="402.00" width="16" height="7.00" fill="#04b5ff"/><rect x="708" y="395.80" width="16" height="7.00" fill="#03c2ff"/><rect x="708" y="389.60" width="16" height="7.00" fill="#03cfff"/><rect x="708" y="383.40" width="16" height="7.00" fill="#02dcff"/><rect x="708" y="377.20" width="16" height="7.00" fill="#01e9ff"/><rect x="708" y="371.00" width="16" height="7.00" fill="#00f6ff"/><rect x="708" y="364.80" width="16" height="7.00" fill="#04fffb"/><rect x="708" y="358.60" width="16" height="7.00" fill="#12ffed"/><rect x="708" y="352.40" width="16" height="7.00" fill="#1fffe0"/><rect x="708" y="346.20" width="16" height="7.00" fill="#2cffd3"/><rect x="708" y="340.00" width="16" height="7.00" fill="#39ffc6"/><rect x="708" y="333.80" width="16" height="7.00" fill="#46ffb9"/><rect x="708" y="327.60" width="16" height="7.00" fill="#53ffac"/><rect x="708" y="321.40" width="16" height="7.00" fill="#60ff9f"/><rect x="708" y="315.20" width="16" height="7.00" fill="#6dff92"/><rect x="708" y="309.00" width="16" height="7.00" fill="#7bff84"/><rect x="708" y="302.80" width="16" height="7.00" fill="#88ff77"/><rect x="708" y="296.60" width="16" height="7.00" fill="#95ff6a"/><rect x="708" y="290.40" width="16" height="7.00" fill="#a2ff5d"/><rect x="708" y="284.20" width="16" height="7.00" fill="#afff50"/><rect x="708" y="278.00" width="16" height="7.00" fill="#bcff43"/><rect x="708" y="271.80" width="16" height="7.00" fill="#c9ff36"/><rect x="708" y="265.60" width="16" height="7.00" fill="#d6ff29"/><rect x="708" y="259.40" width="16" height="7.00" fill="#e3ff1c"/><rect x="708" y="253.20" width="16" height="7.00" fill="#f1ff0e"/><rect x="708" y="247.00" width="16" height="7.00" fill="#feff01"/><rect x="708" y="240.80" width="16" height="7.00" fill="#fff300"/><rect x="708" y="234.60" width="16" height="7.00" fill="#ffe600"/><rect x="708" y="228.40" width="16" height="7.00" fill="#ffd900"/><rect x="708" y="222.20" width="16" height="7.00" fill="#ffcc00"/><rect x="708" y="216.00" width="16" height="7.00" fill="#ffbf00"/><rect x="708" y="209.80" width="16" height="7.00" fill="#ffb200"/><rect x="708" y="203.60" width="16" height="7.00" fill="#ffa500"/><rect x="708" y="197.40" width="16" height="7.00" fill="#ff9800"/><rect x="708" y="191.20" width="16" height="7.00" fill="#ff8b00"/><rect x="708" y="185.00" width="16" height="7.00" fill="#ff7e00"/><rect x="708" y="178.80" width="16" height="7.00" fill="#ff7100"/><rect x="708" y="172.60" width="16" height="7.00" fill="#ff6400"/><rect x="708" y="166.40" width="16" height="7.00" fill="#ff5700"/><rect x="708" y="160.20" width="16" height="7.00" fill="#ff4a00"/><rect x="708" y="154.00" width="16" height="7.00" fill="#ff3d00"/><rect x="708" y="147.80" width="16" height="7.00" fill="#ff3000"/><rect x="708" y="141.60" width="16" height="7.00" fill="#ff2300"/><rect x="708" y="135.40" width="16" height="7.00" fill="#ff1600"/><rect x="708" y="129.20" width="16" height="7.00" fill="#ff0900"/><rect x="708" y="123.00" width="16" height="7.00" fill="#fb0000"/><rect x="708" y="116.80" width="16" height="7.00" fill="#ef0000"/><rect x="708" y="110.60" width="16" height="7.00" fill="#e30000"/><rect x="708" y="104.40" width="16" height="7.00" fill="#d70000"/><rect x="708" y="98.20" width="16" height="7.00" fill="#cb0000"/><rect x="708" y="92.00" width="16" height="7.00" fill="#bf0000"/><rect x="708" y="85.80" width="16" height="7.00" fill="#b30000"/><rect x="708" y="79.60" width="16" height="7.00" fill="#a70000"/><rect x="708" y="73.40" width="16" height="7.00" fill="#9b0000"/><rect x="708" y="67.20" width="16" height="7.00" fill="#8f0000"/><rect x="708" y="61.00" width="16" height="7.00" fill="#830000"/><text x="735" y="73.8" font-family="Liberation Sans, sans-serif" font-size="13.5" textLength="29" lengthAdjust="spacingAndGlyphs">0.30</text><text x="735" y="189.8" font-family="Liberation Sans, sans-serif" font-size="13.5" textLength="29" lengthAdjust="spacingAndGlyphs">0.23</text><text x="735" y="311.8" font-family="Liberation Sans, sans-serif" font-size="13.5" textLength="29" lengthAdjust="spacingAndGlyphs">0.16</text><text x="735" y="433.8" font-family="Liberation Sans, sans-serif" font-size="13.5" textLength="29" lengthAdjust="spacingAndGlyphs">0.09</text><text x="735" y="555.8" font-family="Liberation Sans, sans-serif" font-size="13.5" textLength="29" lengthAdjust="spacingAndGlyphs">0.01</text></svg>
</body></html>
